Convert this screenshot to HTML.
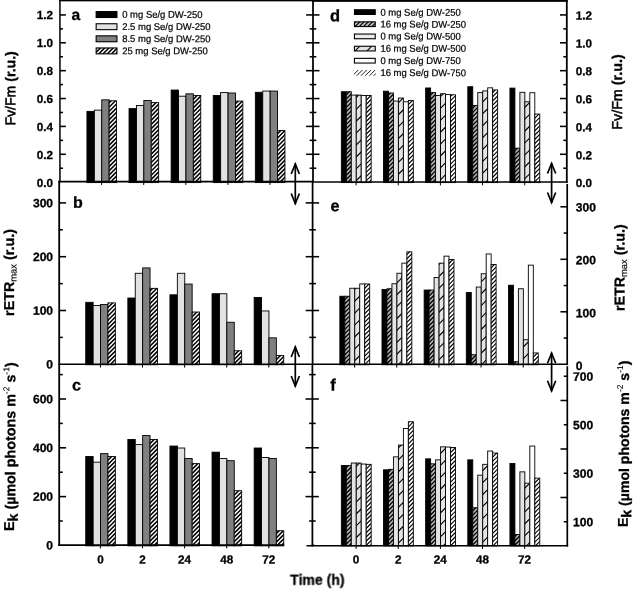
<!DOCTYPE html>
<html><head><meta charset="utf-8"><title>chart</title>
<style>
html,body{margin:0;padding:0;background:#fff;}
body{width:638px;height:590px;overflow:hidden;font-family:"Liberation Sans",sans-serif;}
svg{display:block;font-family:"Liberation Sans",sans-serif;}
.tk{font-weight:bold;font-size:11.7px;fill:#000;stroke:#000;stroke-width:0.3px;}
.lg{font-size:9.8px;fill:#000;stroke:#000;stroke-width:0.22px;}
.pl{font-weight:bold;font-size:17px;fill:#000;stroke:#000;stroke-width:0.3px;}
.ti{font-weight:bold;font-size:14.3px;fill:#000;stroke:#000;stroke-width:0.3px;}
</style></head><body>
<svg width="638" height="590" viewBox="0 0 638 590">
<defs>
</defs>
<filter id="soft" x="0" y="0" width="100%" height="100%" filterUnits="userSpaceOnUse" color-interpolation-filters="sRGB"><feGaussianBlur stdDeviation="0.33"/></filter>
<filter id="soft2" x="0" y="0" width="100%" height="100%" filterUnits="userSpaceOnUse" color-interpolation-filters="sRGB"><feGaussianBlur stdDeviation="0.18"/></filter>
<rect width="638" height="590" fill="#fff"/>
<g filter="url(#soft2)">

<rect x="86.95" y="111.39" width="7.40" height="71.21" fill="#000" stroke="#000" stroke-width="0.9"/>
<rect x="94.35" y="110.14" width="7.40" height="72.46" fill="#e2e2e2" stroke="#000" stroke-width="0.9"/>
<rect x="101.75" y="99.83" width="7.40" height="82.77" fill="#808080" stroke="#000" stroke-width="0.9"/>
<clipPath id="c1"><rect x="109.15" y="100.80" width="7.40" height="81.80"/></clipPath>
<rect x="109.15" y="100.80" width="7.40" height="81.80" fill="#fff"/>
<path d="M108.15,95.37L117.55,85.97M108.15,99.61L117.55,90.21M108.15,103.85L117.55,94.45M108.15,108.09L117.55,98.69M108.15,112.33L117.55,102.93M108.15,116.57L117.55,107.17M108.15,120.81L117.55,111.41M108.15,125.05L117.55,115.65M108.15,129.29L117.55,119.89M108.15,133.53L117.55,124.13M108.15,137.77L117.55,128.37M108.15,142.01L117.55,132.61M108.15,146.25L117.55,136.85M108.15,150.49L117.55,141.09M108.15,154.73L117.55,145.33M108.15,158.97L117.55,149.57M108.15,163.21L117.55,153.81M108.15,167.45L117.55,158.05M108.15,171.69L117.55,162.29M108.15,175.93L117.55,166.53M108.15,180.17L117.55,170.77M108.15,184.41L117.55,175.01M108.15,188.65L117.55,179.25M108.15,192.89L117.55,183.49M108.15,197.13L117.55,187.73" stroke="#000" stroke-width="1.55" fill="none" clip-path="url(#c1)"/>
<rect x="109.15" y="100.80" width="7.40" height="81.80" fill="none" stroke="#000" stroke-width="0.9"/>
<rect x="129.05" y="108.61" width="7.40" height="73.99" fill="#000" stroke="#000" stroke-width="0.9"/>
<rect x="136.45" y="105.54" width="7.40" height="77.06" fill="#e2e2e2" stroke="#000" stroke-width="0.9"/>
<rect x="143.85" y="100.52" width="7.40" height="82.08" fill="#808080" stroke="#000" stroke-width="0.9"/>
<clipPath id="c2"><rect x="151.25" y="102.61" width="7.40" height="79.99"/></clipPath>
<rect x="151.25" y="102.61" width="7.40" height="79.99" fill="#fff"/>
<path d="M150.25,95.67L159.65,86.27M150.25,99.91L159.65,90.51M150.25,104.15L159.65,94.75M150.25,108.39L159.65,98.99M150.25,112.63L159.65,103.23M150.25,116.87L159.65,107.47M150.25,121.11L159.65,111.71M150.25,125.35L159.65,115.95M150.25,129.59L159.65,120.19M150.25,133.83L159.65,124.43M150.25,138.07L159.65,128.67M150.25,142.31L159.65,132.91M150.25,146.55L159.65,137.15M150.25,150.79L159.65,141.39M150.25,155.03L159.65,145.63M150.25,159.27L159.65,149.87M150.25,163.51L159.65,154.11M150.25,167.75L159.65,158.35M150.25,171.99L159.65,162.59M150.25,176.23L159.65,166.83M150.25,180.47L159.65,171.07M150.25,184.71L159.65,175.31M150.25,188.95L159.65,179.55M150.25,193.19L159.65,183.79M150.25,197.43L159.65,188.03" stroke="#000" stroke-width="1.55" fill="none" clip-path="url(#c2)"/>
<rect x="151.25" y="102.61" width="7.40" height="79.99" fill="none" stroke="#000" stroke-width="0.9"/>
<rect x="171.15" y="90.07" width="7.40" height="92.53" fill="#000" stroke="#000" stroke-width="0.9"/>
<rect x="178.55" y="96.20" width="7.40" height="86.40" fill="#e2e2e2" stroke="#000" stroke-width="0.9"/>
<rect x="185.95" y="93.83" width="7.40" height="88.77" fill="#808080" stroke="#000" stroke-width="0.9"/>
<clipPath id="c3"><rect x="193.35" y="95.51" width="7.40" height="87.09"/></clipPath>
<rect x="193.35" y="95.51" width="7.40" height="87.09" fill="#fff"/>
<path d="M192.35,91.73L201.75,82.33M192.35,95.97L201.75,86.57M192.35,100.21L201.75,90.81M192.35,104.45L201.75,95.05M192.35,108.69L201.75,99.29M192.35,112.93L201.75,103.53M192.35,117.17L201.75,107.77M192.35,121.41L201.75,112.01M192.35,125.65L201.75,116.25M192.35,129.89L201.75,120.49M192.35,134.13L201.75,124.73M192.35,138.37L201.75,128.97M192.35,142.61L201.75,133.21M192.35,146.85L201.75,137.45M192.35,151.09L201.75,141.69M192.35,155.33L201.75,145.93M192.35,159.57L201.75,150.17M192.35,163.81L201.75,154.41M192.35,168.05L201.75,158.65M192.35,172.29L201.75,162.89M192.35,176.53L201.75,167.13M192.35,180.77L201.75,171.37M192.35,185.01L201.75,175.61M192.35,189.25L201.75,179.85M192.35,193.49L201.75,184.09M192.35,197.73L201.75,188.33" stroke="#000" stroke-width="1.55" fill="none" clip-path="url(#c3)"/>
<rect x="193.35" y="95.51" width="7.40" height="87.09" fill="none" stroke="#000" stroke-width="0.9"/>
<rect x="213.25" y="95.51" width="7.40" height="87.09" fill="#000" stroke="#000" stroke-width="0.9"/>
<rect x="220.65" y="92.58" width="7.40" height="90.02" fill="#e2e2e2" stroke="#000" stroke-width="0.9"/>
<rect x="228.05" y="93.00" width="7.40" height="89.60" fill="#808080" stroke="#000" stroke-width="0.9"/>
<clipPath id="c4"><rect x="235.45" y="101.08" width="7.40" height="81.52"/></clipPath>
<rect x="235.45" y="101.08" width="7.40" height="81.52" fill="#fff"/>
<path d="M234.45,96.27L243.85,86.87M234.45,100.51L243.85,91.11M234.45,104.75L243.85,95.35M234.45,108.99L243.85,99.59M234.45,113.23L243.85,103.83M234.45,117.47L243.85,108.07M234.45,121.71L243.85,112.31M234.45,125.95L243.85,116.55M234.45,130.19L243.85,120.79M234.45,134.43L243.85,125.03M234.45,138.67L243.85,129.27M234.45,142.91L243.85,133.51M234.45,147.15L243.85,137.75M234.45,151.39L243.85,141.99M234.45,155.63L243.85,146.23M234.45,159.87L243.85,150.47M234.45,164.11L243.85,154.71M234.45,168.35L243.85,158.95M234.45,172.59L243.85,163.19M234.45,176.83L243.85,167.43M234.45,181.07L243.85,171.67M234.45,185.31L243.85,175.91M234.45,189.55L243.85,180.15M234.45,193.79L243.85,184.39M234.45,198.03L243.85,188.63" stroke="#000" stroke-width="1.55" fill="none" clip-path="url(#c4)"/>
<rect x="235.45" y="101.08" width="7.40" height="81.52" fill="none" stroke="#000" stroke-width="0.9"/>
<rect x="255.35" y="92.30" width="7.40" height="90.30" fill="#000" stroke="#000" stroke-width="0.9"/>
<rect x="262.75" y="91.05" width="7.40" height="91.55" fill="#e2e2e2" stroke="#000" stroke-width="0.9"/>
<rect x="270.15" y="91.05" width="7.40" height="91.55" fill="#808080" stroke="#000" stroke-width="0.9"/>
<clipPath id="c5"><rect x="277.55" y="130.62" width="7.40" height="51.98"/></clipPath>
<rect x="277.55" y="130.62" width="7.40" height="51.98" fill="#fff"/>
<path d="M276.55,126.25L285.95,116.85M276.55,130.49L285.95,121.09M276.55,134.73L285.95,125.33M276.55,138.97L285.95,129.57M276.55,143.21L285.95,133.81M276.55,147.45L285.95,138.05M276.55,151.69L285.95,142.29M276.55,155.93L285.95,146.53M276.55,160.17L285.95,150.77M276.55,164.41L285.95,155.01M276.55,168.65L285.95,159.25M276.55,172.89L285.95,163.49M276.55,177.13L285.95,167.73M276.55,181.37L285.95,171.97M276.55,185.61L285.95,176.21M276.55,189.85L285.95,180.45M276.55,194.09L285.95,184.69M276.55,198.33L285.95,188.93" stroke="#000" stroke-width="1.55" fill="none" clip-path="url(#c5)"/>
<rect x="277.55" y="130.62" width="7.40" height="51.98" fill="none" stroke="#000" stroke-width="0.9"/>
<rect x="85.75" y="302.34" width="7.40" height="62.41" fill="#000" stroke="#000" stroke-width="0.9"/>
<rect x="93.15" y="305.57" width="7.40" height="59.18" fill="#e2e2e2" stroke="#000" stroke-width="0.9"/>
<rect x="100.55" y="304.49" width="7.40" height="60.26" fill="#808080" stroke="#000" stroke-width="0.9"/>
<clipPath id="c6"><rect x="107.95" y="302.88" width="7.40" height="61.87"/></clipPath>
<rect x="107.95" y="302.88" width="7.40" height="61.87" fill="#fff"/>
<path d="M106.95,295.85L116.35,286.45M106.95,300.09L116.35,290.69M106.95,304.33L116.35,294.93M106.95,308.57L116.35,299.17M106.95,312.81L116.35,303.41M106.95,317.05L116.35,307.65M106.95,321.29L116.35,311.89M106.95,325.53L116.35,316.13M106.95,329.77L116.35,320.37M106.95,334.01L116.35,324.61M106.95,338.25L116.35,328.85M106.95,342.49L116.35,333.09M106.95,346.73L116.35,337.33M106.95,350.97L116.35,341.57M106.95,355.21L116.35,345.81M106.95,359.45L116.35,350.05M106.95,363.69L116.35,354.29M106.95,367.93L116.35,358.53M106.95,372.17L116.35,362.77M106.95,376.41L116.35,367.01M106.95,380.65L116.35,371.25" stroke="#000" stroke-width="1.55" fill="none" clip-path="url(#c6)"/>
<rect x="107.95" y="302.88" width="7.40" height="61.87" fill="none" stroke="#000" stroke-width="0.9"/>
<rect x="127.85" y="298.04" width="7.40" height="66.71" fill="#000" stroke="#000" stroke-width="0.9"/>
<rect x="135.25" y="273.29" width="7.40" height="91.46" fill="#e2e2e2" stroke="#000" stroke-width="0.9"/>
<rect x="142.65" y="267.91" width="7.40" height="96.84" fill="#808080" stroke="#000" stroke-width="0.9"/>
<clipPath id="c7"><rect x="150.05" y="288.35" width="7.40" height="76.40"/></clipPath>
<rect x="150.05" y="288.35" width="7.40" height="76.40" fill="#fff"/>
<path d="M149.05,283.43L158.45,274.03M149.05,287.67L158.45,278.27M149.05,291.91L158.45,282.51M149.05,296.15L158.45,286.75M149.05,300.39L158.45,290.99M149.05,304.63L158.45,295.23M149.05,308.87L158.45,299.47M149.05,313.11L158.45,303.71M149.05,317.35L158.45,307.95M149.05,321.59L158.45,312.19M149.05,325.83L158.45,316.43M149.05,330.07L158.45,320.67M149.05,334.31L158.45,324.91M149.05,338.55L158.45,329.15M149.05,342.79L158.45,333.39M149.05,347.03L158.45,337.63M149.05,351.27L158.45,341.87M149.05,355.51L158.45,346.11M149.05,359.75L158.45,350.35M149.05,363.99L158.45,354.59M149.05,368.23L158.45,358.83M149.05,372.47L158.45,363.07M149.05,376.71L158.45,367.31M149.05,380.95L158.45,371.55" stroke="#000" stroke-width="1.55" fill="none" clip-path="url(#c7)"/>
<rect x="150.05" y="288.35" width="7.40" height="76.40" fill="none" stroke="#000" stroke-width="0.9"/>
<rect x="169.95" y="294.81" width="7.40" height="69.94" fill="#000" stroke="#000" stroke-width="0.9"/>
<rect x="177.35" y="273.29" width="7.40" height="91.46" fill="#e2e2e2" stroke="#000" stroke-width="0.9"/>
<rect x="184.75" y="284.05" width="7.40" height="80.70" fill="#808080" stroke="#000" stroke-width="0.9"/>
<clipPath id="c8"><rect x="192.15" y="312.03" width="7.40" height="52.72"/></clipPath>
<rect x="192.15" y="312.03" width="7.40" height="52.72" fill="#fff"/>
<path d="M191.15,304.93L200.55,295.53M191.15,309.17L200.55,299.77M191.15,313.41L200.55,304.01M191.15,317.65L200.55,308.25M191.15,321.89L200.55,312.49M191.15,326.13L200.55,316.73M191.15,330.37L200.55,320.97M191.15,334.61L200.55,325.21M191.15,338.85L200.55,329.45M191.15,343.09L200.55,333.69M191.15,347.33L200.55,337.93M191.15,351.57L200.55,342.17M191.15,355.81L200.55,346.41M191.15,360.05L200.55,350.65M191.15,364.29L200.55,354.89M191.15,368.53L200.55,359.13M191.15,372.77L200.55,363.37M191.15,377.01L200.55,367.61M191.15,381.25L200.55,371.85" stroke="#000" stroke-width="1.55" fill="none" clip-path="url(#c8)"/>
<rect x="192.15" y="312.03" width="7.40" height="52.72" fill="none" stroke="#000" stroke-width="0.9"/>
<rect x="212.05" y="293.73" width="7.40" height="71.02" fill="#000" stroke="#000" stroke-width="0.9"/>
<rect x="219.45" y="293.73" width="7.40" height="71.02" fill="#e2e2e2" stroke="#000" stroke-width="0.9"/>
<rect x="226.85" y="322.25" width="7.40" height="42.50" fill="#808080" stroke="#000" stroke-width="0.9"/>
<clipPath id="c9"><rect x="234.25" y="350.76" width="7.40" height="13.99"/></clipPath>
<rect x="234.25" y="350.76" width="7.40" height="13.99" fill="#fff"/>
<path d="M233.25,343.39L242.65,333.99M233.25,347.63L242.65,338.23M233.25,351.87L242.65,342.47M233.25,356.11L242.65,346.71M233.25,360.35L242.65,350.95M233.25,364.59L242.65,355.19M233.25,368.83L242.65,359.43M233.25,373.07L242.65,363.67M233.25,377.31L242.65,367.91M233.25,381.55L242.65,372.15" stroke="#000" stroke-width="1.55" fill="none" clip-path="url(#c9)"/>
<rect x="234.25" y="350.76" width="7.40" height="13.99" fill="none" stroke="#000" stroke-width="0.9"/>
<rect x="254.15" y="297.50" width="7.40" height="67.25" fill="#000" stroke="#000" stroke-width="0.9"/>
<rect x="261.55" y="310.95" width="7.40" height="53.80" fill="#e2e2e2" stroke="#000" stroke-width="0.9"/>
<rect x="268.95" y="337.85" width="7.40" height="26.90" fill="#808080" stroke="#000" stroke-width="0.9"/>
<clipPath id="c10"><rect x="276.35" y="355.60" width="7.40" height="9.15"/></clipPath>
<rect x="276.35" y="355.60" width="7.40" height="9.15" fill="#fff"/>
<path d="M275.35,352.17L284.75,342.77M275.35,356.41L284.75,347.01M275.35,360.65L284.75,351.25M275.35,364.89L284.75,355.49M275.35,369.13L284.75,359.73M275.35,373.37L284.75,363.97M275.35,377.61L284.75,368.21" stroke="#000" stroke-width="1.55" fill="none" clip-path="url(#c10)"/>
<rect x="276.35" y="355.60" width="7.40" height="9.15" fill="none" stroke="#000" stroke-width="0.9"/>
<rect x="85.75" y="456.55" width="7.40" height="89.30" fill="#000" stroke="#000" stroke-width="0.9"/>
<rect x="93.15" y="462.16" width="7.40" height="83.69" fill="#e2e2e2" stroke="#000" stroke-width="0.9"/>
<rect x="100.55" y="453.62" width="7.40" height="92.23" fill="#808080" stroke="#000" stroke-width="0.9"/>
<clipPath id="c11"><rect x="107.95" y="456.55" width="7.40" height="89.30"/></clipPath>
<rect x="107.95" y="456.55" width="7.40" height="89.30" fill="#fff"/>
<path d="M106.95,452.73L116.35,443.33M106.95,456.97L116.35,447.57M106.95,461.21L116.35,451.81M106.95,465.45L116.35,456.05M106.95,469.69L116.35,460.29M106.95,473.93L116.35,464.53M106.95,478.17L116.35,468.77M106.95,482.41L116.35,473.01M106.95,486.65L116.35,477.25M106.95,490.89L116.35,481.49M106.95,495.13L116.35,485.73M106.95,499.37L116.35,489.97M106.95,503.61L116.35,494.21M106.95,507.85L116.35,498.45M106.95,512.09L116.35,502.69M106.95,516.33L116.35,506.93M106.95,520.57L116.35,511.17M106.95,524.81L116.35,515.41M106.95,529.05L116.35,519.65M106.95,533.29L116.35,523.89M106.95,537.53L116.35,528.13M106.95,541.77L116.35,532.37M106.95,546.01L116.35,536.61M106.95,550.25L116.35,540.85M106.95,554.49L116.35,545.09M106.95,558.73L116.35,549.33" stroke="#000" stroke-width="1.55" fill="none" clip-path="url(#c11)"/>
<rect x="107.95" y="456.55" width="7.40" height="89.30" fill="none" stroke="#000" stroke-width="0.9"/>
<rect x="127.85" y="439.47" width="7.40" height="106.38" fill="#000" stroke="#000" stroke-width="0.9"/>
<rect x="135.25" y="444.59" width="7.40" height="101.26" fill="#e2e2e2" stroke="#000" stroke-width="0.9"/>
<rect x="142.65" y="435.56" width="7.40" height="110.29" fill="#808080" stroke="#000" stroke-width="0.9"/>
<clipPath id="c12"><rect x="150.05" y="439.47" width="7.40" height="106.38"/></clipPath>
<rect x="150.05" y="439.47" width="7.40" height="106.38" fill="#fff"/>
<path d="M149.05,436.07L158.45,426.67M149.05,440.31L158.45,430.91M149.05,444.55L158.45,435.15M149.05,448.79L158.45,439.39M149.05,453.03L158.45,443.63M149.05,457.27L158.45,447.87M149.05,461.51L158.45,452.11M149.05,465.75L158.45,456.35M149.05,469.99L158.45,460.59M149.05,474.23L158.45,464.83M149.05,478.47L158.45,469.07M149.05,482.71L158.45,473.31M149.05,486.95L158.45,477.55M149.05,491.19L158.45,481.79M149.05,495.43L158.45,486.03M149.05,499.67L158.45,490.27M149.05,503.91L158.45,494.51M149.05,508.15L158.45,498.75M149.05,512.39L158.45,502.99M149.05,516.63L158.45,507.23M149.05,520.87L158.45,511.47M149.05,525.11L158.45,515.71M149.05,529.35L158.45,519.95M149.05,533.59L158.45,524.19M149.05,537.83L158.45,528.43M149.05,542.07L158.45,532.67M149.05,546.31L158.45,536.91M149.05,550.55L158.45,541.15M149.05,554.79L158.45,545.39M149.05,559.03L158.45,549.63" stroke="#000" stroke-width="1.55" fill="none" clip-path="url(#c12)"/>
<rect x="150.05" y="439.47" width="7.40" height="106.38" fill="none" stroke="#000" stroke-width="0.9"/>
<rect x="169.95" y="446.05" width="7.40" height="99.80" fill="#000" stroke="#000" stroke-width="0.9"/>
<rect x="177.35" y="448.01" width="7.40" height="97.84" fill="#e2e2e2" stroke="#000" stroke-width="0.9"/>
<rect x="184.75" y="458.50" width="7.40" height="87.35" fill="#808080" stroke="#000" stroke-width="0.9"/>
<clipPath id="c13"><rect x="192.15" y="463.62" width="7.40" height="82.23"/></clipPath>
<rect x="192.15" y="463.62" width="7.40" height="82.23" fill="#fff"/>
<path d="M191.15,457.57L200.55,448.17M191.15,461.81L200.55,452.41M191.15,466.05L200.55,456.65M191.15,470.29L200.55,460.89M191.15,474.53L200.55,465.13M191.15,478.77L200.55,469.37M191.15,483.01L200.55,473.61M191.15,487.25L200.55,477.85M191.15,491.49L200.55,482.09M191.15,495.73L200.55,486.33M191.15,499.97L200.55,490.57M191.15,504.21L200.55,494.81M191.15,508.45L200.55,499.05M191.15,512.69L200.55,503.29M191.15,516.93L200.55,507.53M191.15,521.17L200.55,511.77M191.15,525.41L200.55,516.01M191.15,529.65L200.55,520.25M191.15,533.89L200.55,524.49M191.15,538.13L200.55,528.73M191.15,542.37L200.55,532.97M191.15,546.61L200.55,537.21M191.15,550.85L200.55,541.45M191.15,555.09L200.55,545.69M191.15,559.33L200.55,549.93" stroke="#000" stroke-width="1.55" fill="none" clip-path="url(#c13)"/>
<rect x="192.15" y="463.62" width="7.40" height="82.23" fill="none" stroke="#000" stroke-width="0.9"/>
<rect x="212.05" y="452.15" width="7.40" height="93.70" fill="#000" stroke="#000" stroke-width="0.9"/>
<rect x="219.45" y="458.50" width="7.40" height="87.35" fill="#e2e2e2" stroke="#000" stroke-width="0.9"/>
<rect x="226.85" y="460.69" width="7.40" height="85.16" fill="#808080" stroke="#000" stroke-width="0.9"/>
<clipPath id="c14"><rect x="234.25" y="490.71" width="7.40" height="55.14"/></clipPath>
<rect x="234.25" y="490.71" width="7.40" height="55.14" fill="#fff"/>
<path d="M233.25,483.31L242.65,473.91M233.25,487.55L242.65,478.15M233.25,491.79L242.65,482.39M233.25,496.03L242.65,486.63M233.25,500.27L242.65,490.87M233.25,504.51L242.65,495.11M233.25,508.75L242.65,499.35M233.25,512.99L242.65,503.59M233.25,517.23L242.65,507.83M233.25,521.47L242.65,512.07M233.25,525.71L242.65,516.31M233.25,529.95L242.65,520.55M233.25,534.19L242.65,524.79M233.25,538.43L242.65,529.03M233.25,542.67L242.65,533.27M233.25,546.91L242.65,537.51M233.25,551.15L242.65,541.75M233.25,555.39L242.65,545.99M233.25,559.63L242.65,550.23" stroke="#000" stroke-width="1.55" fill="none" clip-path="url(#c14)"/>
<rect x="234.25" y="490.71" width="7.40" height="55.14" fill="none" stroke="#000" stroke-width="0.9"/>
<rect x="254.15" y="448.01" width="7.40" height="97.84" fill="#000" stroke="#000" stroke-width="0.9"/>
<rect x="261.55" y="457.52" width="7.40" height="88.33" fill="#e2e2e2" stroke="#000" stroke-width="0.9"/>
<rect x="268.95" y="458.50" width="7.40" height="87.35" fill="#808080" stroke="#000" stroke-width="0.9"/>
<clipPath id="c15"><rect x="276.35" y="530.72" width="7.40" height="15.13"/></clipPath>
<rect x="276.35" y="530.72" width="7.40" height="15.13" fill="#fff"/>
<path d="M275.35,526.01L284.75,516.61M275.35,530.25L284.75,520.85M275.35,534.49L284.75,525.09M275.35,538.73L284.75,529.33M275.35,542.97L284.75,533.57M275.35,547.21L284.75,537.81M275.35,551.45L284.75,542.05M275.35,555.69L284.75,546.29M275.35,559.93L284.75,550.53" stroke="#000" stroke-width="1.55" fill="none" clip-path="url(#c15)"/>
<rect x="276.35" y="530.72" width="7.40" height="15.13" fill="none" stroke="#000" stroke-width="0.9"/>
<rect x="341.35" y="91.74" width="4.97" height="90.86" fill="#000" stroke="#000" stroke-width="0.9"/>
<clipPath id="c16"><rect x="346.32" y="91.74" width="4.97" height="90.86"/></clipPath>
<rect x="346.32" y="91.74" width="4.97" height="90.86" fill="#b2b2b2"/>
<path d="M345.32,87.16L352.29,80.19M345.32,91.40L352.29,84.43M345.32,95.64L352.29,88.67M345.32,99.88L352.29,92.91M345.32,104.12L352.29,97.15M345.32,108.36L352.29,101.39M345.32,112.60L352.29,105.63M345.32,116.84L352.29,109.87M345.32,121.08L352.29,114.11M345.32,125.32L352.29,118.35M345.32,129.56L352.29,122.59M345.32,133.80L352.29,126.83M345.32,138.04L352.29,131.07M345.32,142.28L352.29,135.31M345.32,146.52L352.29,139.55M345.32,150.76L352.29,143.79M345.32,155.00L352.29,148.03M345.32,159.24L352.29,152.27M345.32,163.48L352.29,156.51M345.32,167.72L352.29,160.75M345.32,171.96L352.29,164.99M345.32,176.20L352.29,169.23M345.32,180.44L352.29,173.47M345.32,184.68L352.29,177.71M345.32,188.92L352.29,181.95M345.32,193.16L352.29,186.19" stroke="#000" stroke-width="1.3" fill="none" clip-path="url(#c16)"/>
<rect x="346.32" y="91.74" width="4.97" height="90.86" fill="none" stroke="#000" stroke-width="0.9"/>
<rect x="351.29" y="95.09" width="4.97" height="87.51" fill="#e4e4e4" stroke="#000" stroke-width="0.9"/>
<clipPath id="c17"><rect x="356.26" y="95.09" width="4.97" height="87.51"/></clipPath>
<rect x="356.26" y="95.09" width="4.97" height="87.51" fill="#e4e4e4"/>
<path d="M355.26,74.54L362.23,67.57M355.26,86.44L362.23,79.47M355.26,98.34L362.23,91.37M355.26,110.24L362.23,103.27M355.26,122.14L362.23,115.17M355.26,134.04L362.23,127.07M355.26,145.94L362.23,138.97M355.26,157.84L362.23,150.87M355.26,169.74L362.23,162.77M355.26,181.64L362.23,174.67M355.26,193.54L362.23,186.57M355.26,205.44L362.23,198.47" stroke="#000" stroke-width="1.1" fill="none" clip-path="url(#c17)"/>
<rect x="356.26" y="95.09" width="4.97" height="87.51" fill="none" stroke="#000" stroke-width="0.9"/>
<rect x="361.23" y="95.51" width="4.97" height="87.09" fill="#fff" stroke="#000" stroke-width="0.9"/>
<clipPath id="c18"><rect x="366.20" y="95.51" width="4.97" height="87.09"/></clipPath>
<rect x="366.20" y="95.51" width="4.97" height="87.09" fill="#fff"/>
<path d="M365.20,88.48L372.17,81.51M365.20,92.72L372.17,85.75M365.20,96.96L372.17,89.99M365.20,101.20L372.17,94.23M365.20,105.44L372.17,98.47M365.20,109.68L372.17,102.71M365.20,113.92L372.17,106.95M365.20,118.16L372.17,111.19M365.20,122.40L372.17,115.43M365.20,126.64L372.17,119.67M365.20,130.88L372.17,123.91M365.20,135.12L372.17,128.15M365.20,139.36L372.17,132.39M365.20,143.60L372.17,136.63M365.20,147.84L372.17,140.87M365.20,152.08L372.17,145.11M365.20,156.32L372.17,149.35M365.20,160.56L372.17,153.59M365.20,164.80L372.17,157.83M365.20,169.04L372.17,162.07M365.20,173.28L372.17,166.31M365.20,177.52L372.17,170.55M365.20,181.76L372.17,174.79M365.20,186.00L372.17,179.03M365.20,190.24L372.17,183.27M365.20,194.48L372.17,187.51" stroke="#000" stroke-width="1.15" fill="none" clip-path="url(#c18)"/>
<rect x="366.20" y="95.51" width="4.97" height="87.09" fill="none" stroke="#000" stroke-width="0.9"/>
<rect x="383.50" y="91.19" width="4.97" height="91.41" fill="#000" stroke="#000" stroke-width="0.9"/>
<clipPath id="c19"><rect x="388.47" y="93.00" width="4.97" height="89.60"/></clipPath>
<rect x="388.47" y="93.00" width="4.97" height="89.60" fill="#b2b2b2"/>
<path d="M387.47,87.41L394.44,80.44M387.47,91.65L394.44,84.68M387.47,95.89L394.44,88.92M387.47,100.13L394.44,93.16M387.47,104.37L394.44,97.40M387.47,108.61L394.44,101.64M387.47,112.85L394.44,105.88M387.47,117.09L394.44,110.12M387.47,121.33L394.44,114.36M387.47,125.57L394.44,118.60M387.47,129.81L394.44,122.84M387.47,134.05L394.44,127.08M387.47,138.29L394.44,131.32M387.47,142.53L394.44,135.56M387.47,146.77L394.44,139.80M387.47,151.01L394.44,144.04M387.47,155.25L394.44,148.28M387.47,159.49L394.44,152.52M387.47,163.73L394.44,156.76M387.47,167.97L394.44,161.00M387.47,172.21L394.44,165.24M387.47,176.45L394.44,169.48M387.47,180.69L394.44,173.72M387.47,184.93L394.44,177.96M387.47,189.17L394.44,182.20M387.47,193.41L394.44,186.44" stroke="#000" stroke-width="1.3" fill="none" clip-path="url(#c19)"/>
<rect x="388.47" y="93.00" width="4.97" height="89.60" fill="none" stroke="#000" stroke-width="0.9"/>
<rect x="393.44" y="101.08" width="4.97" height="81.52" fill="#e4e4e4" stroke="#000" stroke-width="0.9"/>
<clipPath id="c20"><rect x="398.41" y="98.01" width="4.97" height="84.59"/></clipPath>
<rect x="398.41" y="98.01" width="4.97" height="84.59" fill="#e4e4e4"/>
<path d="M397.41,79.99L404.38,73.02M397.41,91.89L404.38,84.92M397.41,103.79L404.38,96.82M397.41,115.69L404.38,108.72M397.41,127.59L404.38,120.62M397.41,139.49L404.38,132.52M397.41,151.39L404.38,144.42M397.41,163.29L404.38,156.32M397.41,175.19L404.38,168.22M397.41,187.09L404.38,180.12M397.41,198.99L404.38,192.02M397.41,210.89L404.38,203.92" stroke="#000" stroke-width="1.1" fill="none" clip-path="url(#c20)"/>
<rect x="398.41" y="98.01" width="4.97" height="84.59" fill="none" stroke="#000" stroke-width="0.9"/>
<rect x="403.38" y="101.78" width="4.97" height="80.82" fill="#fff" stroke="#000" stroke-width="0.9"/>
<clipPath id="c21"><rect x="408.35" y="100.52" width="4.97" height="82.08"/></clipPath>
<rect x="408.35" y="100.52" width="4.97" height="82.08" fill="#fff"/>
<path d="M407.35,97.21L414.32,90.24M407.35,101.45L414.32,94.48M407.35,105.69L414.32,98.72M407.35,109.93L414.32,102.96M407.35,114.17L414.32,107.20M407.35,118.41L414.32,111.44M407.35,122.65L414.32,115.68M407.35,126.89L414.32,119.92M407.35,131.13L414.32,124.16M407.35,135.37L414.32,128.40M407.35,139.61L414.32,132.64M407.35,143.85L414.32,136.88M407.35,148.09L414.32,141.12M407.35,152.33L414.32,145.36M407.35,156.57L414.32,149.60M407.35,160.81L414.32,153.84M407.35,165.05L414.32,158.08M407.35,169.29L414.32,162.32M407.35,173.53L414.32,166.56M407.35,177.77L414.32,170.80M407.35,182.01L414.32,175.04M407.35,186.25L414.32,179.28M407.35,190.49L414.32,183.52M407.35,194.73L414.32,187.76" stroke="#000" stroke-width="1.15" fill="none" clip-path="url(#c21)"/>
<rect x="408.35" y="100.52" width="4.97" height="82.08" fill="none" stroke="#000" stroke-width="0.9"/>
<rect x="425.65" y="87.98" width="4.97" height="94.62" fill="#000" stroke="#000" stroke-width="0.9"/>
<clipPath id="c22"><rect x="430.62" y="92.58" width="4.97" height="90.02"/></clipPath>
<rect x="430.62" y="92.58" width="4.97" height="90.02" fill="#b2b2b2"/>
<path d="M429.62,87.66L436.59,80.69M429.62,91.90L436.59,84.93M429.62,96.14L436.59,89.17M429.62,100.38L436.59,93.41M429.62,104.62L436.59,97.65M429.62,108.86L436.59,101.89M429.62,113.10L436.59,106.13M429.62,117.34L436.59,110.37M429.62,121.58L436.59,114.61M429.62,125.82L436.59,118.85M429.62,130.06L436.59,123.09M429.62,134.30L436.59,127.33M429.62,138.54L436.59,131.57M429.62,142.78L436.59,135.81M429.62,147.02L436.59,140.05M429.62,151.26L436.59,144.29M429.62,155.50L436.59,148.53M429.62,159.74L436.59,152.77M429.62,163.98L436.59,157.01M429.62,168.22L436.59,161.25M429.62,172.46L436.59,165.49M429.62,176.70L436.59,169.73M429.62,180.94L436.59,173.97M429.62,185.18L436.59,178.21M429.62,189.42L436.59,182.45M429.62,193.66L436.59,186.69" stroke="#000" stroke-width="1.3" fill="none" clip-path="url(#c22)"/>
<rect x="430.62" y="92.58" width="4.97" height="90.02" fill="none" stroke="#000" stroke-width="0.9"/>
<rect x="435.59" y="95.51" width="4.97" height="87.09" fill="#e4e4e4" stroke="#000" stroke-width="0.9"/>
<clipPath id="c23"><rect x="440.56" y="93.69" width="4.97" height="88.91"/></clipPath>
<rect x="440.56" y="93.69" width="4.97" height="88.91" fill="#e4e4e4"/>
<path d="M439.56,73.54L446.53,66.57M439.56,85.44L446.53,78.47M439.56,97.34L446.53,90.37M439.56,109.24L446.53,102.27M439.56,121.14L446.53,114.17M439.56,133.04L446.53,126.07M439.56,144.94L446.53,137.97M439.56,156.84L446.53,149.87M439.56,168.74L446.53,161.77M439.56,180.64L446.53,173.67M439.56,192.54L446.53,185.57M439.56,204.44L446.53,197.47" stroke="#000" stroke-width="1.1" fill="none" clip-path="url(#c23)"/>
<rect x="440.56" y="93.69" width="4.97" height="88.91" fill="none" stroke="#000" stroke-width="0.9"/>
<rect x="445.53" y="94.53" width="4.97" height="88.07" fill="#fff" stroke="#000" stroke-width="0.9"/>
<clipPath id="c24"><rect x="450.50" y="94.81" width="4.97" height="87.79"/></clipPath>
<rect x="450.50" y="94.81" width="4.97" height="87.79" fill="#fff"/>
<path d="M449.50,88.98L456.47,82.01M449.50,93.22L456.47,86.25M449.50,97.46L456.47,90.49M449.50,101.70L456.47,94.73M449.50,105.94L456.47,98.97M449.50,110.18L456.47,103.21M449.50,114.42L456.47,107.45M449.50,118.66L456.47,111.69M449.50,122.90L456.47,115.93M449.50,127.14L456.47,120.17M449.50,131.38L456.47,124.41M449.50,135.62L456.47,128.65M449.50,139.86L456.47,132.89M449.50,144.10L456.47,137.13M449.50,148.34L456.47,141.37M449.50,152.58L456.47,145.61M449.50,156.82L456.47,149.85M449.50,161.06L456.47,154.09M449.50,165.30L456.47,158.33M449.50,169.54L456.47,162.57M449.50,173.78L456.47,166.81M449.50,178.02L456.47,171.05M449.50,182.26L456.47,175.29M449.50,186.50L456.47,179.53M449.50,190.74L456.47,183.77M449.50,194.98L456.47,188.01" stroke="#000" stroke-width="1.15" fill="none" clip-path="url(#c24)"/>
<rect x="450.50" y="94.81" width="4.97" height="87.79" fill="none" stroke="#000" stroke-width="0.9"/>
<rect x="467.80" y="86.73" width="4.97" height="95.87" fill="#000" stroke="#000" stroke-width="0.9"/>
<clipPath id="c25"><rect x="472.77" y="105.54" width="4.97" height="77.06"/></clipPath>
<rect x="472.77" y="105.54" width="4.97" height="77.06" fill="#b2b2b2"/>
<path d="M471.77,100.63L478.74,93.66M471.77,104.87L478.74,97.90M471.77,109.11L478.74,102.14M471.77,113.35L478.74,106.38M471.77,117.59L478.74,110.62M471.77,121.83L478.74,114.86M471.77,126.07L478.74,119.10M471.77,130.31L478.74,123.34M471.77,134.55L478.74,127.58M471.77,138.79L478.74,131.82M471.77,143.03L478.74,136.06M471.77,147.27L478.74,140.30M471.77,151.51L478.74,144.54M471.77,155.75L478.74,148.78M471.77,159.99L478.74,153.02M471.77,164.23L478.74,157.26M471.77,168.47L478.74,161.50M471.77,172.71L478.74,165.74M471.77,176.95L478.74,169.98M471.77,181.19L478.74,174.22M471.77,185.43L478.74,178.46M471.77,189.67L478.74,182.70M471.77,193.91L478.74,186.94" stroke="#000" stroke-width="1.3" fill="none" clip-path="url(#c25)"/>
<rect x="472.77" y="105.54" width="4.97" height="77.06" fill="none" stroke="#000" stroke-width="0.9"/>
<rect x="477.74" y="92.58" width="4.97" height="90.02" fill="#e4e4e4" stroke="#000" stroke-width="0.9"/>
<clipPath id="c26"><rect x="482.71" y="90.91" width="4.97" height="91.69"/></clipPath>
<rect x="482.71" y="90.91" width="4.97" height="91.69" fill="#e4e4e4"/>
<path d="M481.71,78.99L488.68,72.02M481.71,90.89L488.68,83.92M481.71,102.79L488.68,95.82M481.71,114.69L488.68,107.72M481.71,126.59L488.68,119.62M481.71,138.49L488.68,131.52M481.71,150.39L488.68,143.42M481.71,162.29L488.68,155.32M481.71,174.19L488.68,167.22M481.71,186.09L488.68,179.12M481.71,197.99L488.68,191.02M481.71,209.89L488.68,202.92" stroke="#000" stroke-width="1.1" fill="none" clip-path="url(#c26)"/>
<rect x="482.71" y="90.91" width="4.97" height="91.69" fill="none" stroke="#000" stroke-width="0.9"/>
<rect x="487.68" y="87.84" width="4.97" height="94.76" fill="#fff" stroke="#000" stroke-width="0.9"/>
<clipPath id="c27"><rect x="492.65" y="89.93" width="4.97" height="92.67"/></clipPath>
<rect x="492.65" y="89.93" width="4.97" height="92.67" fill="#fff"/>
<path d="M491.65,84.99L498.62,78.02M491.65,89.23L498.62,82.26M491.65,93.47L498.62,86.50M491.65,97.71L498.62,90.74M491.65,101.95L498.62,94.98M491.65,106.19L498.62,99.22M491.65,110.43L498.62,103.46M491.65,114.67L498.62,107.70M491.65,118.91L498.62,111.94M491.65,123.15L498.62,116.18M491.65,127.39L498.62,120.42M491.65,131.63L498.62,124.66M491.65,135.87L498.62,128.90M491.65,140.11L498.62,133.14M491.65,144.35L498.62,137.38M491.65,148.59L498.62,141.62M491.65,152.83L498.62,145.86M491.65,157.07L498.62,150.10M491.65,161.31L498.62,154.34M491.65,165.55L498.62,158.58M491.65,169.79L498.62,162.82M491.65,174.03L498.62,167.06M491.65,178.27L498.62,171.30M491.65,182.51L498.62,175.54M491.65,186.75L498.62,179.78M491.65,190.99L498.62,184.02M491.65,195.23L498.62,188.26" stroke="#000" stroke-width="1.15" fill="none" clip-path="url(#c27)"/>
<rect x="492.65" y="89.93" width="4.97" height="92.67" fill="none" stroke="#000" stroke-width="0.9"/>
<rect x="509.95" y="88.12" width="4.97" height="94.48" fill="#000" stroke="#000" stroke-width="0.9"/>
<clipPath id="c28"><rect x="514.92" y="148.18" width="4.97" height="34.42"/></clipPath>
<rect x="514.92" y="148.18" width="4.97" height="34.42" fill="#b2b2b2"/>
<path d="M513.92,143.28L520.89,136.31M513.92,147.52L520.89,140.55M513.92,151.76L520.89,144.79M513.92,156.00L520.89,149.03M513.92,160.24L520.89,153.27M513.92,164.48L520.89,157.51M513.92,168.72L520.89,161.75M513.92,172.96L520.89,165.99M513.92,177.20L520.89,170.23M513.92,181.44L520.89,174.47M513.92,185.68L520.89,178.71M513.92,189.92L520.89,182.95M513.92,194.16L520.89,187.19" stroke="#000" stroke-width="1.3" fill="none" clip-path="url(#c28)"/>
<rect x="514.92" y="148.18" width="4.97" height="34.42" fill="none" stroke="#000" stroke-width="0.9"/>
<rect x="519.89" y="92.30" width="4.97" height="90.30" fill="#e4e4e4" stroke="#000" stroke-width="0.9"/>
<clipPath id="c29"><rect x="524.86" y="101.78" width="4.97" height="80.82"/></clipPath>
<rect x="524.86" y="101.78" width="4.97" height="80.82" fill="#e4e4e4"/>
<path d="M523.86,84.44L530.83,77.47M523.86,96.34L530.83,89.37M523.86,108.24L530.83,101.27M523.86,120.14L530.83,113.17M523.86,132.04L530.83,125.07M523.86,143.94L530.83,136.97M523.86,155.84L530.83,148.87M523.86,167.74L530.83,160.77M523.86,179.64L530.83,172.67M523.86,191.54L530.83,184.57M523.86,203.44L530.83,196.47" stroke="#000" stroke-width="1.1" fill="none" clip-path="url(#c29)"/>
<rect x="524.86" y="101.78" width="4.97" height="80.82" fill="none" stroke="#000" stroke-width="0.9"/>
<rect x="529.83" y="92.72" width="4.97" height="89.88" fill="#fff" stroke="#000" stroke-width="0.9"/>
<clipPath id="c30"><rect x="534.80" y="114.04" width="4.97" height="68.56"/></clipPath>
<rect x="534.80" y="114.04" width="4.97" height="68.56" fill="#fff"/>
<path d="M533.80,110.68L540.77,103.71M533.80,114.92L540.77,107.95M533.80,119.16L540.77,112.19M533.80,123.40L540.77,116.43M533.80,127.64L540.77,120.67M533.80,131.88L540.77,124.91M533.80,136.12L540.77,129.15M533.80,140.36L540.77,133.39M533.80,144.60L540.77,137.63M533.80,148.84L540.77,141.87M533.80,153.08L540.77,146.11M533.80,157.32L540.77,150.35M533.80,161.56L540.77,154.59M533.80,165.80L540.77,158.83M533.80,170.04L540.77,163.07M533.80,174.28L540.77,167.31M533.80,178.52L540.77,171.55M533.80,182.76L540.77,175.79M533.80,187.00L540.77,180.03M533.80,191.24L540.77,184.27M533.80,195.48L540.77,188.51" stroke="#000" stroke-width="1.15" fill="none" clip-path="url(#c30)"/>
<rect x="534.80" y="114.04" width="4.97" height="68.56" fill="none" stroke="#000" stroke-width="0.9"/>
<rect x="339.85" y="296.25" width="4.97" height="68.50" fill="#000" stroke="#000" stroke-width="0.9"/>
<clipPath id="c31"><rect x="344.82" y="296.25" width="4.97" height="68.50"/></clipPath>
<rect x="344.82" y="296.25" width="4.97" height="68.50" fill="#b2b2b2"/>
<path d="M343.82,292.18L350.79,285.21M343.82,296.42L350.79,289.45M343.82,300.66L350.79,293.69M343.82,304.90L350.79,297.93M343.82,309.14L350.79,302.17M343.82,313.38L350.79,306.41M343.82,317.62L350.79,310.65M343.82,321.86L350.79,314.89M343.82,326.10L350.79,319.13M343.82,330.34L350.79,323.37M343.82,334.58L350.79,327.61M343.82,338.82L350.79,331.85M343.82,343.06L350.79,336.09M343.82,347.30L350.79,340.33M343.82,351.54L350.79,344.57M343.82,355.78L350.79,348.81M343.82,360.02L350.79,353.05M343.82,364.26L350.79,357.29M343.82,368.50L350.79,361.53M343.82,372.74L350.79,365.77M343.82,376.98L350.79,370.01" stroke="#000" stroke-width="1.3" fill="none" clip-path="url(#c31)"/>
<rect x="344.82" y="296.25" width="4.97" height="68.50" fill="none" stroke="#000" stroke-width="0.9"/>
<rect x="349.79" y="288.25" width="4.97" height="76.50" fill="#e4e4e4" stroke="#000" stroke-width="0.9"/>
<clipPath id="c32"><rect x="354.76" y="288.25" width="4.97" height="76.50"/></clipPath>
<rect x="354.76" y="288.25" width="4.97" height="76.50" fill="#e4e4e4"/>
<path d="M353.76,278.34L360.73,271.37M353.76,290.24L360.73,283.27M353.76,302.14L360.73,295.17M353.76,314.04L360.73,307.07M353.76,325.94L360.73,318.97M353.76,337.84L360.73,330.87M353.76,349.74L360.73,342.77M353.76,361.64L360.73,354.67M353.76,373.54L360.73,366.57M353.76,385.44L360.73,378.47" stroke="#000" stroke-width="1.1" fill="none" clip-path="url(#c32)"/>
<rect x="354.76" y="288.25" width="4.97" height="76.50" fill="none" stroke="#000" stroke-width="0.9"/>
<rect x="359.73" y="283.95" width="4.97" height="80.80" fill="#fff" stroke="#000" stroke-width="0.9"/>
<clipPath id="c33"><rect x="364.70" y="283.95" width="4.97" height="80.80"/></clipPath>
<rect x="364.70" y="283.95" width="4.97" height="80.80" fill="#fff"/>
<path d="M363.70,276.54L370.67,269.57M363.70,280.78L370.67,273.81M363.70,285.02L370.67,278.05M363.70,289.26L370.67,282.29M363.70,293.50L370.67,286.53M363.70,297.74L370.67,290.77M363.70,301.98L370.67,295.01M363.70,306.22L370.67,299.25M363.70,310.46L370.67,303.49M363.70,314.70L370.67,307.73M363.70,318.94L370.67,311.97M363.70,323.18L370.67,316.21M363.70,327.42L370.67,320.45M363.70,331.66L370.67,324.69M363.70,335.90L370.67,328.93M363.70,340.14L370.67,333.17M363.70,344.38L370.67,337.41M363.70,348.62L370.67,341.65M363.70,352.86L370.67,345.89M363.70,357.10L370.67,350.13M363.70,361.34L370.67,354.37M363.70,365.58L370.67,358.61M363.70,369.82L370.67,362.85M363.70,374.06L370.67,367.09M363.70,378.30L370.67,371.33" stroke="#000" stroke-width="1.15" fill="none" clip-path="url(#c33)"/>
<rect x="364.70" y="283.95" width="4.97" height="80.80" fill="none" stroke="#000" stroke-width="0.9"/>
<rect x="382.00" y="289.55" width="4.97" height="75.20" fill="#000" stroke="#000" stroke-width="0.9"/>
<clipPath id="c34"><rect x="386.97" y="288.75" width="4.97" height="76.00"/></clipPath>
<rect x="386.97" y="288.75" width="4.97" height="76.00" fill="#b2b2b2"/>
<path d="M385.97,283.95L392.94,276.98M385.97,288.19L392.94,281.22M385.97,292.43L392.94,285.46M385.97,296.67L392.94,289.70M385.97,300.91L392.94,293.94M385.97,305.15L392.94,298.18M385.97,309.39L392.94,302.42M385.97,313.63L392.94,306.66M385.97,317.87L392.94,310.90M385.97,322.11L392.94,315.14M385.97,326.35L392.94,319.38M385.97,330.59L392.94,323.62M385.97,334.83L392.94,327.86M385.97,339.07L392.94,332.10M385.97,343.31L392.94,336.34M385.97,347.55L392.94,340.58M385.97,351.79L392.94,344.82M385.97,356.03L392.94,349.06M385.97,360.27L392.94,353.30M385.97,364.51L392.94,357.54M385.97,368.75L392.94,361.78M385.97,372.99L392.94,366.02M385.97,377.23L392.94,370.26" stroke="#000" stroke-width="1.3" fill="none" clip-path="url(#c34)"/>
<rect x="386.97" y="288.75" width="4.97" height="76.00" fill="none" stroke="#000" stroke-width="0.9"/>
<rect x="391.94" y="283.75" width="4.97" height="81.00" fill="#e4e4e4" stroke="#000" stroke-width="0.9"/>
<clipPath id="c35"><rect x="396.91" y="273.25" width="4.97" height="91.50"/></clipPath>
<rect x="396.91" y="273.25" width="4.97" height="91.50" fill="#e4e4e4"/>
<path d="M395.91,259.99L402.88,253.02M395.91,271.89L402.88,264.92M395.91,283.79L402.88,276.82M395.91,295.69L402.88,288.72M395.91,307.59L402.88,300.62M395.91,319.49L402.88,312.52M395.91,331.39L402.88,324.42M395.91,343.29L402.88,336.32M395.91,355.19L402.88,348.22M395.91,367.09L402.88,360.12M395.91,378.99L402.88,372.02M395.91,390.89L402.88,383.92" stroke="#000" stroke-width="1.1" fill="none" clip-path="url(#c35)"/>
<rect x="396.91" y="273.25" width="4.97" height="91.50" fill="none" stroke="#000" stroke-width="0.9"/>
<rect x="401.88" y="263.15" width="4.97" height="101.60" fill="#fff" stroke="#000" stroke-width="0.9"/>
<clipPath id="c36"><rect x="406.85" y="251.85" width="4.97" height="112.90"/></clipPath>
<rect x="406.85" y="251.85" width="4.97" height="112.90" fill="#fff"/>
<path d="M405.85,247.11L412.82,240.14M405.85,251.35L412.82,244.38M405.85,255.59L412.82,248.62M405.85,259.83L412.82,252.86M405.85,264.07L412.82,257.10M405.85,268.31L412.82,261.34M405.85,272.55L412.82,265.58M405.85,276.79L412.82,269.82M405.85,281.03L412.82,274.06M405.85,285.27L412.82,278.30M405.85,289.51L412.82,282.54M405.85,293.75L412.82,286.78M405.85,297.99L412.82,291.02M405.85,302.23L412.82,295.26M405.85,306.47L412.82,299.50M405.85,310.71L412.82,303.74M405.85,314.95L412.82,307.98M405.85,319.19L412.82,312.22M405.85,323.43L412.82,316.46M405.85,327.67L412.82,320.70M405.85,331.91L412.82,324.94M405.85,336.15L412.82,329.18M405.85,340.39L412.82,333.42M405.85,344.63L412.82,337.66M405.85,348.87L412.82,341.90M405.85,353.11L412.82,346.14M405.85,357.35L412.82,350.38M405.85,361.59L412.82,354.62M405.85,365.83L412.82,358.86M405.85,370.07L412.82,363.10M405.85,374.31L412.82,367.34M405.85,378.55L412.82,371.58" stroke="#000" stroke-width="1.15" fill="none" clip-path="url(#c36)"/>
<rect x="406.85" y="251.85" width="4.97" height="112.90" fill="none" stroke="#000" stroke-width="0.9"/>
<rect x="424.15" y="290.05" width="4.97" height="74.70" fill="#000" stroke="#000" stroke-width="0.9"/>
<clipPath id="c37"><rect x="429.12" y="290.05" width="4.97" height="74.70"/></clipPath>
<rect x="429.12" y="290.05" width="4.97" height="74.70" fill="#b2b2b2"/>
<path d="M428.12,284.20L435.09,277.23M428.12,288.44L435.09,281.47M428.12,292.68L435.09,285.71M428.12,296.92L435.09,289.95M428.12,301.16L435.09,294.19M428.12,305.40L435.09,298.43M428.12,309.64L435.09,302.67M428.12,313.88L435.09,306.91M428.12,318.12L435.09,311.15M428.12,322.36L435.09,315.39M428.12,326.60L435.09,319.63M428.12,330.84L435.09,323.87M428.12,335.08L435.09,328.11M428.12,339.32L435.09,332.35M428.12,343.56L435.09,336.59M428.12,347.80L435.09,340.83M428.12,352.04L435.09,345.07M428.12,356.28L435.09,349.31M428.12,360.52L435.09,353.55M428.12,364.76L435.09,357.79M428.12,369.00L435.09,362.03M428.12,373.24L435.09,366.27M428.12,377.48L435.09,370.51" stroke="#000" stroke-width="1.3" fill="none" clip-path="url(#c37)"/>
<rect x="429.12" y="290.05" width="4.97" height="74.70" fill="none" stroke="#000" stroke-width="0.9"/>
<rect x="434.09" y="277.45" width="4.97" height="87.30" fill="#e4e4e4" stroke="#000" stroke-width="0.9"/>
<clipPath id="c38"><rect x="439.06" y="263.15" width="4.97" height="101.60"/></clipPath>
<rect x="439.06" y="263.15" width="4.97" height="101.60" fill="#e4e4e4"/>
<path d="M438.06,253.54L445.03,246.57M438.06,265.44L445.03,258.47M438.06,277.34L445.03,270.37M438.06,289.24L445.03,282.27M438.06,301.14L445.03,294.17M438.06,313.04L445.03,306.07M438.06,324.94L445.03,317.97M438.06,336.84L445.03,329.87M438.06,348.74L445.03,341.77M438.06,360.64L445.03,353.67M438.06,372.54L445.03,365.57M438.06,384.44L445.03,377.47" stroke="#000" stroke-width="1.1" fill="none" clip-path="url(#c38)"/>
<rect x="439.06" y="263.15" width="4.97" height="101.60" fill="none" stroke="#000" stroke-width="0.9"/>
<rect x="444.03" y="256.15" width="4.97" height="108.60" fill="#fff" stroke="#000" stroke-width="0.9"/>
<clipPath id="c39"><rect x="449.00" y="259.45" width="4.97" height="105.30"/></clipPath>
<rect x="449.00" y="259.45" width="4.97" height="105.30" fill="#fff"/>
<path d="M448.00,255.84L454.97,248.87M448.00,260.08L454.97,253.11M448.00,264.32L454.97,257.35M448.00,268.56L454.97,261.59M448.00,272.80L454.97,265.83M448.00,277.04L454.97,270.07M448.00,281.28L454.97,274.31M448.00,285.52L454.97,278.55M448.00,289.76L454.97,282.79M448.00,294.00L454.97,287.03M448.00,298.24L454.97,291.27M448.00,302.48L454.97,295.51M448.00,306.72L454.97,299.75M448.00,310.96L454.97,303.99M448.00,315.20L454.97,308.23M448.00,319.44L454.97,312.47M448.00,323.68L454.97,316.71M448.00,327.92L454.97,320.95M448.00,332.16L454.97,325.19M448.00,336.40L454.97,329.43M448.00,340.64L454.97,333.67M448.00,344.88L454.97,337.91M448.00,349.12L454.97,342.15M448.00,353.36L454.97,346.39M448.00,357.60L454.97,350.63M448.00,361.84L454.97,354.87M448.00,366.08L454.97,359.11M448.00,370.32L454.97,363.35M448.00,374.56L454.97,367.59M448.00,378.80L454.97,371.83" stroke="#000" stroke-width="1.15" fill="none" clip-path="url(#c39)"/>
<rect x="449.00" y="259.45" width="4.97" height="105.30" fill="none" stroke="#000" stroke-width="0.9"/>
<rect x="466.30" y="292.55" width="4.97" height="72.20" fill="#000" stroke="#000" stroke-width="0.9"/>
<clipPath id="c40"><rect x="471.27" y="354.75" width="4.97" height="10.00"/></clipPath>
<rect x="471.27" y="354.75" width="4.97" height="10.00" fill="#b2b2b2"/>
<path d="M470.27,348.05L477.24,341.08M470.27,352.29L477.24,345.32M470.27,356.53L477.24,349.56M470.27,360.77L477.24,353.80M470.27,365.01L477.24,358.04M470.27,369.25L477.24,362.28M470.27,373.49L477.24,366.52M470.27,377.73L477.24,370.76" stroke="#000" stroke-width="1.3" fill="none" clip-path="url(#c40)"/>
<rect x="471.27" y="354.75" width="4.97" height="10.00" fill="none" stroke="#000" stroke-width="0.9"/>
<rect x="476.24" y="287.05" width="4.97" height="77.70" fill="#e4e4e4" stroke="#000" stroke-width="0.9"/>
<clipPath id="c41"><rect x="481.21" y="273.75" width="4.97" height="91.00"/></clipPath>
<rect x="481.21" y="273.75" width="4.97" height="91.00" fill="#e4e4e4"/>
<path d="M480.21,258.99L487.18,252.02M480.21,270.89L487.18,263.92M480.21,282.79L487.18,275.82M480.21,294.69L487.18,287.72M480.21,306.59L487.18,299.62M480.21,318.49L487.18,311.52M480.21,330.39L487.18,323.42M480.21,342.29L487.18,335.32M480.21,354.19L487.18,347.22M480.21,366.09L487.18,359.12M480.21,377.99L487.18,371.02M480.21,389.89L487.18,382.92" stroke="#000" stroke-width="1.1" fill="none" clip-path="url(#c41)"/>
<rect x="481.21" y="273.75" width="4.97" height="91.00" fill="none" stroke="#000" stroke-width="0.9"/>
<rect x="486.18" y="253.95" width="4.97" height="110.80" fill="#fff" stroke="#000" stroke-width="0.9"/>
<clipPath id="c42"><rect x="491.15" y="264.45" width="4.97" height="100.30"/></clipPath>
<rect x="491.15" y="264.45" width="4.97" height="100.30" fill="#fff"/>
<path d="M490.15,260.33L497.12,253.36M490.15,264.57L497.12,257.60M490.15,268.81L497.12,261.84M490.15,273.05L497.12,266.08M490.15,277.29L497.12,270.32M490.15,281.53L497.12,274.56M490.15,285.77L497.12,278.80M490.15,290.01L497.12,283.04M490.15,294.25L497.12,287.28M490.15,298.49L497.12,291.52M490.15,302.73L497.12,295.76M490.15,306.97L497.12,300.00M490.15,311.21L497.12,304.24M490.15,315.45L497.12,308.48M490.15,319.69L497.12,312.72M490.15,323.93L497.12,316.96M490.15,328.17L497.12,321.20M490.15,332.41L497.12,325.44M490.15,336.65L497.12,329.68M490.15,340.89L497.12,333.92M490.15,345.13L497.12,338.16M490.15,349.37L497.12,342.40M490.15,353.61L497.12,346.64M490.15,357.85L497.12,350.88M490.15,362.09L497.12,355.12M490.15,366.33L497.12,359.36M490.15,370.57L497.12,363.60M490.15,374.81L497.12,367.84M490.15,379.05L497.12,372.08" stroke="#000" stroke-width="1.15" fill="none" clip-path="url(#c42)"/>
<rect x="491.15" y="264.45" width="4.97" height="100.30" fill="none" stroke="#000" stroke-width="0.9"/>
<rect x="508.45" y="285.25" width="4.97" height="79.50" fill="#000" stroke="#000" stroke-width="0.9"/>
<clipPath id="c43"><rect x="513.42" y="361.75" width="4.97" height="3.00"/></clipPath>
<rect x="513.42" y="361.75" width="4.97" height="3.00" fill="#b2b2b2"/>
<path d="M512.42,356.78L519.39,349.81M512.42,361.02L519.39,354.05M512.42,365.26L519.39,358.29M512.42,369.50L519.39,362.53M512.42,373.74L519.39,366.77M512.42,377.98L519.39,371.01" stroke="#000" stroke-width="1.3" fill="none" clip-path="url(#c43)"/>
<rect x="513.42" y="361.75" width="4.97" height="3.00" fill="none" stroke="#000" stroke-width="0.9"/>
<rect x="518.39" y="288.75" width="4.97" height="76.00" fill="#e4e4e4" stroke="#000" stroke-width="0.9"/>
<clipPath id="c44"><rect x="523.36" y="339.75" width="4.97" height="25.00"/></clipPath>
<rect x="523.36" y="339.75" width="4.97" height="25.00" fill="#e4e4e4"/>
<path d="M522.36,323.94L529.33,316.97M522.36,335.84L529.33,328.87M522.36,347.74L529.33,340.77M522.36,359.64L529.33,352.67M522.36,371.54L529.33,364.57M522.36,383.44L529.33,376.47M522.36,395.34L529.33,388.37" stroke="#000" stroke-width="1.1" fill="none" clip-path="url(#c44)"/>
<rect x="523.36" y="339.75" width="4.97" height="25.00" fill="none" stroke="#000" stroke-width="0.9"/>
<rect x="528.33" y="265.15" width="4.97" height="99.60" fill="#fff" stroke="#000" stroke-width="0.9"/>
<clipPath id="c45"><rect x="533.30" y="352.95" width="4.97" height="11.80"/></clipPath>
<rect x="533.30" y="352.95" width="4.97" height="11.80" fill="#fff"/>
<path d="M532.30,349.62L539.27,342.65M532.30,353.86L539.27,346.89M532.30,358.10L539.27,351.13M532.30,362.34L539.27,355.37M532.30,366.58L539.27,359.61M532.30,370.82L539.27,363.85M532.30,375.06L539.27,368.09" stroke="#000" stroke-width="1.15" fill="none" clip-path="url(#c45)"/>
<rect x="533.30" y="352.95" width="4.97" height="11.80" fill="none" stroke="#000" stroke-width="0.9"/>
<rect x="341.35" y="465.55" width="4.97" height="80.30" fill="#000" stroke="#000" stroke-width="0.9"/>
<clipPath id="c46"><rect x="346.32" y="465.55" width="4.97" height="80.30"/></clipPath>
<rect x="346.32" y="465.55" width="4.97" height="80.30" fill="#b2b2b2"/>
<path d="M345.32,460.28L352.29,453.31M345.32,464.52L352.29,457.55M345.32,468.76L352.29,461.79M345.32,473.00L352.29,466.03M345.32,477.24L352.29,470.27M345.32,481.48L352.29,474.51M345.32,485.72L352.29,478.75M345.32,489.96L352.29,482.99M345.32,494.20L352.29,487.23M345.32,498.44L352.29,491.47M345.32,502.68L352.29,495.71M345.32,506.92L352.29,499.95M345.32,511.16L352.29,504.19M345.32,515.40L352.29,508.43M345.32,519.64L352.29,512.67M345.32,523.88L352.29,516.91M345.32,528.12L352.29,521.15M345.32,532.36L352.29,525.39M345.32,536.60L352.29,529.63M345.32,540.84L352.29,533.87M345.32,545.08L352.29,538.11M345.32,549.32L352.29,542.35M345.32,553.56L352.29,546.59M345.32,557.80L352.29,550.83" stroke="#000" stroke-width="1.3" fill="none" clip-path="url(#c46)"/>
<rect x="346.32" y="465.55" width="4.97" height="80.30" fill="none" stroke="#000" stroke-width="0.9"/>
<rect x="351.29" y="463.05" width="4.97" height="82.80" fill="#e4e4e4" stroke="#000" stroke-width="0.9"/>
<clipPath id="c47"><rect x="356.26" y="463.05" width="4.97" height="82.80"/></clipPath>
<rect x="356.26" y="463.05" width="4.97" height="82.80" fill="#e4e4e4"/>
<path d="M355.26,443.44L362.23,436.47M355.26,455.34L362.23,448.37M355.26,467.24L362.23,460.27M355.26,479.14L362.23,472.17M355.26,491.04L362.23,484.07M355.26,502.94L362.23,495.97M355.26,514.84L362.23,507.87M355.26,526.74L362.23,519.77M355.26,538.64L362.23,531.67M355.26,550.54L362.23,543.57M355.26,562.44L362.23,555.47M355.26,574.34L362.23,567.37" stroke="#000" stroke-width="1.1" fill="none" clip-path="url(#c47)"/>
<rect x="356.26" y="463.05" width="4.97" height="82.80" fill="none" stroke="#000" stroke-width="0.9"/>
<rect x="361.23" y="464.05" width="4.97" height="81.80" fill="#fff" stroke="#000" stroke-width="0.9"/>
<clipPath id="c48"><rect x="366.20" y="464.35" width="4.97" height="81.50"/></clipPath>
<rect x="366.20" y="464.35" width="4.97" height="81.50" fill="#fff"/>
<path d="M365.20,457.36L372.17,450.39M365.20,461.60L372.17,454.63M365.20,465.84L372.17,458.87M365.20,470.08L372.17,463.11M365.20,474.32L372.17,467.35M365.20,478.56L372.17,471.59M365.20,482.80L372.17,475.83M365.20,487.04L372.17,480.07M365.20,491.28L372.17,484.31M365.20,495.52L372.17,488.55M365.20,499.76L372.17,492.79M365.20,504.00L372.17,497.03M365.20,508.24L372.17,501.27M365.20,512.48L372.17,505.51M365.20,516.72L372.17,509.75M365.20,520.96L372.17,513.99M365.20,525.20L372.17,518.23M365.20,529.44L372.17,522.47M365.20,533.68L372.17,526.71M365.20,537.92L372.17,530.95M365.20,542.16L372.17,535.19M365.20,546.40L372.17,539.43M365.20,550.64L372.17,543.67M365.20,554.88L372.17,547.91M365.20,559.12L372.17,552.15" stroke="#000" stroke-width="1.15" fill="none" clip-path="url(#c48)"/>
<rect x="366.20" y="464.35" width="4.97" height="81.50" fill="none" stroke="#000" stroke-width="0.9"/>
<rect x="383.50" y="469.85" width="4.97" height="76.00" fill="#000" stroke="#000" stroke-width="0.9"/>
<clipPath id="c49"><rect x="388.47" y="469.35" width="4.97" height="76.50"/></clipPath>
<rect x="388.47" y="469.35" width="4.97" height="76.50" fill="#b2b2b2"/>
<path d="M387.47,464.77L394.44,457.80M387.47,469.01L394.44,462.04M387.47,473.25L394.44,466.28M387.47,477.49L394.44,470.52M387.47,481.73L394.44,474.76M387.47,485.97L394.44,479.00M387.47,490.21L394.44,483.24M387.47,494.45L394.44,487.48M387.47,498.69L394.44,491.72M387.47,502.93L394.44,495.96M387.47,507.17L394.44,500.20M387.47,511.41L394.44,504.44M387.47,515.65L394.44,508.68M387.47,519.89L394.44,512.92M387.47,524.13L394.44,517.16M387.47,528.37L394.44,521.40M387.47,532.61L394.44,525.64M387.47,536.85L394.44,529.88M387.47,541.09L394.44,534.12M387.47,545.33L394.44,538.36M387.47,549.57L394.44,542.60M387.47,553.81L394.44,546.84M387.47,558.05L394.44,551.08" stroke="#000" stroke-width="1.3" fill="none" clip-path="url(#c49)"/>
<rect x="388.47" y="469.35" width="4.97" height="76.50" fill="none" stroke="#000" stroke-width="0.9"/>
<rect x="393.44" y="456.85" width="4.97" height="89.00" fill="#e4e4e4" stroke="#000" stroke-width="0.9"/>
<clipPath id="c50"><rect x="398.41" y="445.05" width="4.97" height="100.80"/></clipPath>
<rect x="398.41" y="445.05" width="4.97" height="100.80" fill="#e4e4e4"/>
<path d="M397.41,425.09L404.38,418.12M397.41,436.99L404.38,430.02M397.41,448.89L404.38,441.92M397.41,460.79L404.38,453.82M397.41,472.69L404.38,465.72M397.41,484.59L404.38,477.62M397.41,496.49L404.38,489.52M397.41,508.39L404.38,501.42M397.41,520.29L404.38,513.32M397.41,532.19L404.38,525.22M397.41,544.09L404.38,537.12M397.41,555.99L404.38,549.02M397.41,567.89L404.38,560.92" stroke="#000" stroke-width="1.1" fill="none" clip-path="url(#c50)"/>
<rect x="398.41" y="445.05" width="4.97" height="100.80" fill="none" stroke="#000" stroke-width="0.9"/>
<rect x="403.38" y="428.45" width="4.97" height="117.40" fill="#fff" stroke="#000" stroke-width="0.9"/>
<clipPath id="c51"><rect x="408.35" y="421.75" width="4.97" height="124.10"/></clipPath>
<rect x="408.35" y="421.75" width="4.97" height="124.10" fill="#fff"/>
<path d="M407.35,415.21L414.32,408.24M407.35,419.45L414.32,412.48M407.35,423.69L414.32,416.72M407.35,427.93L414.32,420.96M407.35,432.17L414.32,425.20M407.35,436.41L414.32,429.44M407.35,440.65L414.32,433.68M407.35,444.89L414.32,437.92M407.35,449.13L414.32,442.16M407.35,453.37L414.32,446.40M407.35,457.61L414.32,450.64M407.35,461.85L414.32,454.88M407.35,466.09L414.32,459.12M407.35,470.33L414.32,463.36M407.35,474.57L414.32,467.60M407.35,478.81L414.32,471.84M407.35,483.05L414.32,476.08M407.35,487.29L414.32,480.32M407.35,491.53L414.32,484.56M407.35,495.77L414.32,488.80M407.35,500.01L414.32,493.04M407.35,504.25L414.32,497.28M407.35,508.49L414.32,501.52M407.35,512.73L414.32,505.76M407.35,516.97L414.32,510.00M407.35,521.21L414.32,514.24M407.35,525.45L414.32,518.48M407.35,529.69L414.32,522.72M407.35,533.93L414.32,526.96M407.35,538.17L414.32,531.20M407.35,542.41L414.32,535.44M407.35,546.65L414.32,539.68M407.35,550.89L414.32,543.92M407.35,555.13L414.32,548.16M407.35,559.37L414.32,552.40" stroke="#000" stroke-width="1.15" fill="none" clip-path="url(#c51)"/>
<rect x="408.35" y="421.75" width="4.97" height="124.10" fill="none" stroke="#000" stroke-width="0.9"/>
<rect x="425.65" y="458.85" width="4.97" height="87.00" fill="#000" stroke="#000" stroke-width="0.9"/>
<clipPath id="c52"><rect x="430.62" y="463.85" width="4.97" height="82.00"/></clipPath>
<rect x="430.62" y="463.85" width="4.97" height="82.00" fill="#b2b2b2"/>
<path d="M429.62,456.54L436.59,449.57M429.62,460.78L436.59,453.81M429.62,465.02L436.59,458.05M429.62,469.26L436.59,462.29M429.62,473.50L436.59,466.53M429.62,477.74L436.59,470.77M429.62,481.98L436.59,475.01M429.62,486.22L436.59,479.25M429.62,490.46L436.59,483.49M429.62,494.70L436.59,487.73M429.62,498.94L436.59,491.97M429.62,503.18L436.59,496.21M429.62,507.42L436.59,500.45M429.62,511.66L436.59,504.69M429.62,515.90L436.59,508.93M429.62,520.14L436.59,513.17M429.62,524.38L436.59,517.41M429.62,528.62L436.59,521.65M429.62,532.86L436.59,525.89M429.62,537.10L436.59,530.13M429.62,541.34L436.59,534.37M429.62,545.58L436.59,538.61M429.62,549.82L436.59,542.85M429.62,554.06L436.59,547.09M429.62,558.30L436.59,551.33" stroke="#000" stroke-width="1.3" fill="none" clip-path="url(#c52)"/>
<rect x="430.62" y="463.85" width="4.97" height="82.00" fill="none" stroke="#000" stroke-width="0.9"/>
<rect x="435.59" y="459.85" width="4.97" height="86.00" fill="#e4e4e4" stroke="#000" stroke-width="0.9"/>
<clipPath id="c53"><rect x="440.56" y="446.85" width="4.97" height="99.00"/></clipPath>
<rect x="440.56" y="446.85" width="4.97" height="99.00" fill="#e4e4e4"/>
<path d="M439.56,430.54L446.53,423.57M439.56,442.44L446.53,435.47M439.56,454.34L446.53,447.37M439.56,466.24L446.53,459.27M439.56,478.14L446.53,471.17M439.56,490.04L446.53,483.07M439.56,501.94L446.53,494.97M439.56,513.84L446.53,506.87M439.56,525.74L446.53,518.77M439.56,537.64L446.53,530.67M439.56,549.54L446.53,542.57M439.56,561.44L446.53,554.47M439.56,573.34L446.53,566.37" stroke="#000" stroke-width="1.1" fill="none" clip-path="url(#c53)"/>
<rect x="440.56" y="446.85" width="4.97" height="99.00" fill="none" stroke="#000" stroke-width="0.9"/>
<rect x="445.53" y="447.05" width="4.97" height="98.80" fill="#fff" stroke="#000" stroke-width="0.9"/>
<clipPath id="c54"><rect x="450.50" y="447.55" width="4.97" height="98.30"/></clipPath>
<rect x="450.50" y="447.55" width="4.97" height="98.30" fill="#fff"/>
<path d="M449.50,440.90L456.47,433.93M449.50,445.14L456.47,438.17M449.50,449.38L456.47,442.41M449.50,453.62L456.47,446.65M449.50,457.86L456.47,450.89M449.50,462.10L456.47,455.13M449.50,466.34L456.47,459.37M449.50,470.58L456.47,463.61M449.50,474.82L456.47,467.85M449.50,479.06L456.47,472.09M449.50,483.30L456.47,476.33M449.50,487.54L456.47,480.57M449.50,491.78L456.47,484.81M449.50,496.02L456.47,489.05M449.50,500.26L456.47,493.29M449.50,504.50L456.47,497.53M449.50,508.74L456.47,501.77M449.50,512.98L456.47,506.01M449.50,517.22L456.47,510.25M449.50,521.46L456.47,514.49M449.50,525.70L456.47,518.73M449.50,529.94L456.47,522.97M449.50,534.18L456.47,527.21M449.50,538.42L456.47,531.45M449.50,542.66L456.47,535.69M449.50,546.90L456.47,539.93M449.50,551.14L456.47,544.17M449.50,555.38L456.47,548.41M449.50,559.62L456.47,552.65" stroke="#000" stroke-width="1.15" fill="none" clip-path="url(#c54)"/>
<rect x="450.50" y="447.55" width="4.97" height="98.30" fill="none" stroke="#000" stroke-width="0.9"/>
<rect x="467.80" y="459.85" width="4.97" height="86.00" fill="#000" stroke="#000" stroke-width="0.9"/>
<clipPath id="c55"><rect x="472.77" y="507.75" width="4.97" height="38.10"/></clipPath>
<rect x="472.77" y="507.75" width="4.97" height="38.10" fill="#b2b2b2"/>
<path d="M471.77,503.43L478.74,496.46M471.77,507.67L478.74,500.70M471.77,511.91L478.74,504.94M471.77,516.15L478.74,509.18M471.77,520.39L478.74,513.42M471.77,524.63L478.74,517.66M471.77,528.87L478.74,521.90M471.77,533.11L478.74,526.14M471.77,537.35L478.74,530.38M471.77,541.59L478.74,534.62M471.77,545.83L478.74,538.86M471.77,550.07L478.74,543.10M471.77,554.31L478.74,547.34M471.77,558.55L478.74,551.58" stroke="#000" stroke-width="1.3" fill="none" clip-path="url(#c55)"/>
<rect x="472.77" y="507.75" width="4.97" height="38.10" fill="none" stroke="#000" stroke-width="0.9"/>
<rect x="477.74" y="475.15" width="4.97" height="70.70" fill="#e4e4e4" stroke="#000" stroke-width="0.9"/>
<clipPath id="c56"><rect x="482.71" y="464.35" width="4.97" height="81.50"/></clipPath>
<rect x="482.71" y="464.35" width="4.97" height="81.50" fill="#e4e4e4"/>
<path d="M481.71,447.89L488.68,440.92M481.71,459.79L488.68,452.82M481.71,471.69L488.68,464.72M481.71,483.59L488.68,476.62M481.71,495.49L488.68,488.52M481.71,507.39L488.68,500.42M481.71,519.29L488.68,512.32M481.71,531.19L488.68,524.22M481.71,543.09L488.68,536.12M481.71,554.99L488.68,548.02M481.71,566.89L488.68,559.92" stroke="#000" stroke-width="1.1" fill="none" clip-path="url(#c56)"/>
<rect x="482.71" y="464.35" width="4.97" height="81.50" fill="none" stroke="#000" stroke-width="0.9"/>
<rect x="487.68" y="451.05" width="4.97" height="94.80" fill="#fff" stroke="#000" stroke-width="0.9"/>
<clipPath id="c57"><rect x="492.65" y="453.05" width="4.97" height="92.80"/></clipPath>
<rect x="492.65" y="453.05" width="4.97" height="92.80" fill="#fff"/>
<path d="M491.65,449.63L498.62,442.66M491.65,453.87L498.62,446.90M491.65,458.11L498.62,451.14M491.65,462.35L498.62,455.38M491.65,466.59L498.62,459.62M491.65,470.83L498.62,463.86M491.65,475.07L498.62,468.10M491.65,479.31L498.62,472.34M491.65,483.55L498.62,476.58M491.65,487.79L498.62,480.82M491.65,492.03L498.62,485.06M491.65,496.27L498.62,489.30M491.65,500.51L498.62,493.54M491.65,504.75L498.62,497.78M491.65,508.99L498.62,502.02M491.65,513.23L498.62,506.26M491.65,517.47L498.62,510.50M491.65,521.71L498.62,514.74M491.65,525.95L498.62,518.98M491.65,530.19L498.62,523.22M491.65,534.43L498.62,527.46M491.65,538.67L498.62,531.70M491.65,542.91L498.62,535.94M491.65,547.15L498.62,540.18M491.65,551.39L498.62,544.42M491.65,555.63L498.62,548.66M491.65,559.87L498.62,552.90" stroke="#000" stroke-width="1.15" fill="none" clip-path="url(#c57)"/>
<rect x="492.65" y="453.05" width="4.97" height="92.80" fill="none" stroke="#000" stroke-width="0.9"/>
<rect x="509.95" y="463.55" width="4.97" height="82.30" fill="#000" stroke="#000" stroke-width="0.9"/>
<clipPath id="c58"><rect x="514.92" y="534.55" width="4.97" height="11.30"/></clipPath>
<rect x="514.92" y="534.55" width="4.97" height="11.30" fill="#b2b2b2"/>
<path d="M513.92,529.12L520.89,522.15M513.92,533.36L520.89,526.39M513.92,537.60L520.89,530.63M513.92,541.84L520.89,534.87M513.92,546.08L520.89,539.11M513.92,550.32L520.89,543.35M513.92,554.56L520.89,547.59M513.92,558.80L520.89,551.83" stroke="#000" stroke-width="1.3" fill="none" clip-path="url(#c58)"/>
<rect x="514.92" y="534.55" width="4.97" height="11.30" fill="none" stroke="#000" stroke-width="0.9"/>
<rect x="519.89" y="471.85" width="4.97" height="74.00" fill="#e4e4e4" stroke="#000" stroke-width="0.9"/>
<clipPath id="c59"><rect x="524.86" y="483.15" width="4.97" height="62.70"/></clipPath>
<rect x="524.86" y="483.15" width="4.97" height="62.70" fill="#e4e4e4"/>
<path d="M523.86,465.24L530.83,458.27M523.86,477.14L530.83,470.17M523.86,489.04L530.83,482.07M523.86,500.94L530.83,493.97M523.86,512.84L530.83,505.87M523.86,524.74L530.83,517.77M523.86,536.64L530.83,529.67M523.86,548.54L530.83,541.57M523.86,560.44L530.83,553.47M523.86,572.34L530.83,565.37" stroke="#000" stroke-width="1.1" fill="none" clip-path="url(#c59)"/>
<rect x="524.86" y="483.15" width="4.97" height="62.70" fill="none" stroke="#000" stroke-width="0.9"/>
<rect x="529.83" y="446.05" width="4.97" height="99.80" fill="#fff" stroke="#000" stroke-width="0.9"/>
<clipPath id="c60"><rect x="534.80" y="478.15" width="4.97" height="67.70"/></clipPath>
<rect x="534.80" y="478.15" width="4.97" height="67.70" fill="#fff"/>
<path d="M533.80,471.08L540.77,464.11M533.80,475.32L540.77,468.35M533.80,479.56L540.77,472.59M533.80,483.80L540.77,476.83M533.80,488.04L540.77,481.07M533.80,492.28L540.77,485.31M533.80,496.52L540.77,489.55M533.80,500.76L540.77,493.79M533.80,505.00L540.77,498.03M533.80,509.24L540.77,502.27M533.80,513.48L540.77,506.51M533.80,517.72L540.77,510.75M533.80,521.96L540.77,514.99M533.80,526.20L540.77,519.23M533.80,530.44L540.77,523.47M533.80,534.68L540.77,527.71M533.80,538.92L540.77,531.95M533.80,543.16L540.77,536.19M533.80,547.40L540.77,540.43M533.80,551.64L540.77,544.67M533.80,555.88L540.77,548.91M533.80,560.12L540.77,553.15" stroke="#000" stroke-width="1.15" fill="none" clip-path="url(#c60)"/>
<rect x="534.80" y="478.15" width="4.97" height="67.70" fill="none" stroke="#000" stroke-width="0.9"/>
<rect x="96.15" y="11.60" width="20.80" height="5.90" fill="#000" stroke="#000" stroke-width="1.1"/>
<rect x="96.15" y="23.75" width="20.80" height="5.90" fill="#e2e2e2" stroke="#000" stroke-width="1.1"/>
<rect x="96.15" y="35.85" width="20.80" height="5.90" fill="#808080" stroke="#000" stroke-width="1.1"/>
<clipPath id="c61"><rect x="96.15" y="47.95" width="20.80" height="5.90"/></clipPath>
<rect x="96.15" y="47.95" width="20.80" height="5.90" fill="#fff"/>
<path d="M95.15,40.53L117.95,17.73M95.15,44.77L117.95,21.97M95.15,49.01L117.95,26.21M95.15,53.25L117.95,30.45M95.15,57.49L117.95,34.69M95.15,61.73L117.95,38.93M95.15,65.97L117.95,43.17M95.15,70.21L117.95,47.41M95.15,74.45L117.95,51.65M95.15,78.69L117.95,55.89M95.15,82.93L117.95,60.13" stroke="#000" stroke-width="1.55" fill="none" clip-path="url(#c61)"/>
<rect x="96.15" y="47.95" width="20.80" height="5.90" fill="none" stroke="#000" stroke-width="1.1"/>
<rect x="354.45" y="9.75" width="20.80" height="4.70" fill="#000" stroke="#000" stroke-width="1.1"/>
<clipPath id="c62"><rect x="354.45" y="21.85" width="20.80" height="4.70"/></clipPath>
<rect x="354.45" y="21.85" width="20.80" height="4.70" fill="#bbb"/>
<path d="M353.45,15.43L376.25,-7.37M353.45,19.67L376.25,-3.13M353.45,23.91L376.25,1.11M353.45,28.15L376.25,5.35M353.45,32.39L376.25,9.59M353.45,36.63L376.25,13.83M353.45,40.87L376.25,18.07M353.45,45.11L376.25,22.31M353.45,49.35L376.25,26.55M353.45,53.59L376.25,30.79" stroke="#000" stroke-width="1.15" fill="none" clip-path="url(#c62)"/>
<rect x="354.45" y="21.85" width="20.80" height="4.70" fill="none" stroke="#000" stroke-width="1.1"/>
<rect x="354.45" y="34.05" width="20.80" height="4.70" fill="#ececec" stroke="#000" stroke-width="1.1"/>
<clipPath id="c63"><rect x="354.45" y="46.25" width="20.80" height="4.70"/></clipPath>
<rect x="354.45" y="46.25" width="20.80" height="4.70" fill="#e4e4e4"/>
<path d="M353.45,28.75L376.25,5.95M353.45,40.65L376.25,17.85M353.45,52.55L376.25,29.75M353.45,64.45L376.25,41.65M353.45,76.35L376.25,53.55M353.45,88.25L376.25,65.45" stroke="#000" stroke-width="1.1" fill="none" clip-path="url(#c63)"/>
<rect x="354.45" y="46.25" width="20.80" height="4.70" fill="none" stroke="#000" stroke-width="1.1"/>
<rect x="354.45" y="58.35" width="20.80" height="4.70" fill="#fff" stroke="#000" stroke-width="1.1"/>
<clipPath id="c64"><rect x="353.90" y="70.00" width="21.90" height="5.80"/></clipPath>
<rect x="353.90" y="70.00" width="21.90" height="5.80" fill="#fff"/>
<path d="M352.90,62.62L376.80,38.72M352.90,66.86L376.80,42.96M352.90,71.10L376.80,47.20M352.90,75.34L376.80,51.44M352.90,79.58L376.80,55.68M352.90,83.82L376.80,59.92M352.90,88.06L376.80,64.16M352.90,92.30L376.80,68.40M352.90,96.54L376.80,72.64M352.90,100.78L376.80,76.88M352.90,105.02L376.80,81.12" stroke="#111" stroke-width="0.95" fill="none" clip-path="url(#c64)"/>
</g><g filter="url(#soft)">
<rect x="59.20" y="0" width="253.80" height="1.35" fill="#000"/>
<rect x="312.10" y="0" width="255.60" height="1.85" fill="#000"/>
<line x1="59.95" y1="0.00" x2="59.95" y2="182.45" stroke="#000" stroke-width="1.5"/>
<line x1="59.20" y1="180.85" x2="59.20" y2="545.90" stroke="#000" stroke-width="1.8"/>
<line x1="313.00" y1="0.00" x2="313.00" y2="182.05" stroke="#000" stroke-width="1.75"/>
<line x1="312.60" y1="181.65" x2="312.60" y2="364.30" stroke="#000" stroke-width="1.75"/>
<line x1="312.40" y1="364.30" x2="312.40" y2="546.50" stroke="#000" stroke-width="1.75"/>
<line x1="566.80" y1="0.00" x2="566.80" y2="182.85" stroke="#000" stroke-width="1.8"/>
<line x1="567.20" y1="183.95" x2="567.20" y2="365.10" stroke="#000" stroke-width="1.7"/>
<line x1="567.30" y1="366.20" x2="567.30" y2="546.50" stroke="#000" stroke-width="1.7"/>
<line x1="58.30" y1="181.65" x2="313.00" y2="181.65" stroke="#000" stroke-width="1.7"/>
<line x1="312.60" y1="182.05" x2="567.70" y2="182.05" stroke="#000" stroke-width="1.6"/>
<line x1="58.30" y1="364.30" x2="568.05" y2="364.30" stroke="#000" stroke-width="1.5"/>
<line x1="58.30" y1="545.10" x2="284.20" y2="545.10" stroke="#000" stroke-width="1.6"/>
<line x1="306.50" y1="545.70" x2="568.15" y2="545.70" stroke="#000" stroke-width="1.5"/>
<line x1="311.55" y1="545.30" x2="314.40" y2="545.30" stroke="#000" stroke-width="1.5"/>
<line x1="59.95" y1="154.28" x2="65.85" y2="154.28" stroke="#000" stroke-width="1.55"/>
<line x1="306.10" y1="154.28" x2="319.50" y2="154.28" stroke="#000" stroke-width="1.55"/>
<line x1="59.95" y1="126.41" x2="65.85" y2="126.41" stroke="#000" stroke-width="1.55"/>
<line x1="306.10" y1="126.41" x2="319.50" y2="126.41" stroke="#000" stroke-width="1.55"/>
<line x1="59.95" y1="98.54" x2="65.85" y2="98.54" stroke="#000" stroke-width="1.55"/>
<line x1="306.10" y1="98.54" x2="319.50" y2="98.54" stroke="#000" stroke-width="1.55"/>
<line x1="59.95" y1="70.67" x2="65.85" y2="70.67" stroke="#000" stroke-width="1.55"/>
<line x1="306.10" y1="70.67" x2="319.50" y2="70.67" stroke="#000" stroke-width="1.55"/>
<line x1="59.95" y1="42.80" x2="65.85" y2="42.80" stroke="#000" stroke-width="1.55"/>
<line x1="306.10" y1="42.80" x2="319.50" y2="42.80" stroke="#000" stroke-width="1.55"/>
<line x1="59.95" y1="14.93" x2="65.85" y2="14.93" stroke="#000" stroke-width="1.55"/>
<line x1="306.10" y1="14.93" x2="319.50" y2="14.93" stroke="#000" stroke-width="1.55"/>
<line x1="59.95" y1="168.22" x2="62.95" y2="168.22" stroke="#000" stroke-width="1.55"/>
<line x1="309.70" y1="168.22" x2="316.30" y2="168.22" stroke="#000" stroke-width="1.55"/>
<line x1="59.95" y1="140.34" x2="62.95" y2="140.34" stroke="#000" stroke-width="1.55"/>
<line x1="309.70" y1="140.34" x2="316.30" y2="140.34" stroke="#000" stroke-width="1.55"/>
<line x1="59.95" y1="112.48" x2="62.95" y2="112.48" stroke="#000" stroke-width="1.55"/>
<line x1="309.70" y1="112.48" x2="316.30" y2="112.48" stroke="#000" stroke-width="1.55"/>
<line x1="59.95" y1="84.61" x2="62.95" y2="84.61" stroke="#000" stroke-width="1.55"/>
<line x1="309.70" y1="84.61" x2="316.30" y2="84.61" stroke="#000" stroke-width="1.55"/>
<line x1="59.95" y1="56.74" x2="62.95" y2="56.74" stroke="#000" stroke-width="1.55"/>
<line x1="309.70" y1="56.74" x2="316.30" y2="56.74" stroke="#000" stroke-width="1.55"/>
<line x1="59.95" y1="28.87" x2="62.95" y2="28.87" stroke="#000" stroke-width="1.55"/>
<line x1="309.70" y1="28.87" x2="316.30" y2="28.87" stroke="#000" stroke-width="1.55"/>
<line x1="560.00" y1="154.28" x2="566.80" y2="154.28" stroke="#000" stroke-width="1.55"/>
<line x1="560.00" y1="126.41" x2="566.80" y2="126.41" stroke="#000" stroke-width="1.55"/>
<line x1="560.00" y1="98.54" x2="566.80" y2="98.54" stroke="#000" stroke-width="1.55"/>
<line x1="560.00" y1="70.67" x2="566.80" y2="70.67" stroke="#000" stroke-width="1.55"/>
<line x1="560.00" y1="42.80" x2="566.80" y2="42.80" stroke="#000" stroke-width="1.55"/>
<line x1="560.00" y1="14.93" x2="566.80" y2="14.93" stroke="#000" stroke-width="1.55"/>
<line x1="563.30" y1="168.22" x2="566.80" y2="168.22" stroke="#000" stroke-width="1.55"/>
<line x1="563.30" y1="140.34" x2="566.80" y2="140.34" stroke="#000" stroke-width="1.55"/>
<line x1="563.30" y1="112.48" x2="566.80" y2="112.48" stroke="#000" stroke-width="1.55"/>
<line x1="563.30" y1="84.61" x2="566.80" y2="84.61" stroke="#000" stroke-width="1.55"/>
<line x1="563.30" y1="56.74" x2="566.80" y2="56.74" stroke="#000" stroke-width="1.55"/>
<line x1="563.30" y1="28.87" x2="566.80" y2="28.87" stroke="#000" stroke-width="1.55"/>
<line x1="59.20" y1="310.50" x2="66.10" y2="310.50" stroke="#000" stroke-width="1.55"/>
<line x1="305.70" y1="310.50" x2="319.10" y2="310.50" stroke="#000" stroke-width="1.55"/>
<line x1="59.20" y1="256.70" x2="66.10" y2="256.70" stroke="#000" stroke-width="1.55"/>
<line x1="305.70" y1="256.70" x2="319.10" y2="256.70" stroke="#000" stroke-width="1.55"/>
<line x1="59.20" y1="202.90" x2="66.10" y2="202.90" stroke="#000" stroke-width="1.55"/>
<line x1="305.70" y1="202.90" x2="319.10" y2="202.90" stroke="#000" stroke-width="1.55"/>
<line x1="59.20" y1="337.40" x2="62.80" y2="337.40" stroke="#000" stroke-width="1.55"/>
<line x1="309.30" y1="337.40" x2="315.90" y2="337.40" stroke="#000" stroke-width="1.55"/>
<line x1="59.20" y1="283.60" x2="62.80" y2="283.60" stroke="#000" stroke-width="1.55"/>
<line x1="309.30" y1="283.60" x2="315.90" y2="283.60" stroke="#000" stroke-width="1.55"/>
<line x1="59.20" y1="229.80" x2="62.80" y2="229.80" stroke="#000" stroke-width="1.55"/>
<line x1="309.30" y1="229.80" x2="315.90" y2="229.80" stroke="#000" stroke-width="1.55"/>
<line x1="560.40" y1="311.80" x2="567.20" y2="311.80" stroke="#000" stroke-width="1.55"/>
<line x1="560.40" y1="259.30" x2="567.20" y2="259.30" stroke="#000" stroke-width="1.55"/>
<line x1="560.40" y1="206.80" x2="567.20" y2="206.80" stroke="#000" stroke-width="1.55"/>
<line x1="563.70" y1="338.05" x2="567.20" y2="338.05" stroke="#000" stroke-width="1.55"/>
<line x1="563.70" y1="285.55" x2="567.20" y2="285.55" stroke="#000" stroke-width="1.55"/>
<line x1="563.70" y1="233.05" x2="567.20" y2="233.05" stroke="#000" stroke-width="1.55"/>
<line x1="59.20" y1="496.60" x2="66.10" y2="496.60" stroke="#000" stroke-width="1.55"/>
<line x1="305.50" y1="496.60" x2="318.90" y2="496.60" stroke="#000" stroke-width="1.55"/>
<line x1="59.20" y1="447.80" x2="66.10" y2="447.80" stroke="#000" stroke-width="1.55"/>
<line x1="305.50" y1="447.80" x2="318.90" y2="447.80" stroke="#000" stroke-width="1.55"/>
<line x1="59.20" y1="399.00" x2="66.10" y2="399.00" stroke="#000" stroke-width="1.55"/>
<line x1="305.50" y1="399.00" x2="318.90" y2="399.00" stroke="#000" stroke-width="1.55"/>
<line x1="59.20" y1="521.00" x2="62.80" y2="521.00" stroke="#000" stroke-width="1.55"/>
<line x1="309.10" y1="521.00" x2="315.70" y2="521.00" stroke="#000" stroke-width="1.55"/>
<line x1="59.20" y1="472.20" x2="62.80" y2="472.20" stroke="#000" stroke-width="1.55"/>
<line x1="309.10" y1="472.20" x2="315.70" y2="472.20" stroke="#000" stroke-width="1.55"/>
<line x1="59.20" y1="423.40" x2="62.80" y2="423.40" stroke="#000" stroke-width="1.55"/>
<line x1="309.10" y1="423.40" x2="315.70" y2="423.40" stroke="#000" stroke-width="1.55"/>
<line x1="59.20" y1="374.60" x2="62.80" y2="374.60" stroke="#000" stroke-width="1.55"/>
<line x1="309.10" y1="374.60" x2="315.70" y2="374.60" stroke="#000" stroke-width="1.55"/>
<line x1="560.50" y1="497.50" x2="567.30" y2="497.50" stroke="#000" stroke-width="1.55"/>
<line x1="560.50" y1="449.00" x2="567.30" y2="449.00" stroke="#000" stroke-width="1.55"/>
<line x1="560.50" y1="400.50" x2="567.30" y2="400.50" stroke="#000" stroke-width="1.55"/>
<line x1="563.80" y1="521.75" x2="567.30" y2="521.75" stroke="#000" stroke-width="1.55"/>
<line x1="563.80" y1="473.25" x2="567.30" y2="473.25" stroke="#000" stroke-width="1.55"/>
<line x1="563.80" y1="424.75" x2="567.30" y2="424.75" stroke="#000" stroke-width="1.55"/>
<line x1="563.80" y1="376.25" x2="567.30" y2="376.25" stroke="#000" stroke-width="1.55"/>
<line x1="101.60" y1="181.65" x2="101.60" y2="184.95" stroke="#000" stroke-width="1.0"/>
<line x1="143.70" y1="181.65" x2="143.70" y2="184.95" stroke="#000" stroke-width="1.0"/>
<line x1="185.80" y1="181.65" x2="185.80" y2="184.95" stroke="#000" stroke-width="1.0"/>
<line x1="227.90" y1="181.65" x2="227.90" y2="184.95" stroke="#000" stroke-width="1.0"/>
<line x1="270.00" y1="181.65" x2="270.00" y2="184.95" stroke="#000" stroke-width="1.0"/>
<line x1="356.11" y1="182.05" x2="356.11" y2="185.35" stroke="#000" stroke-width="1.0"/>
<line x1="398.26" y1="182.05" x2="398.26" y2="185.35" stroke="#000" stroke-width="1.0"/>
<line x1="440.41" y1="182.05" x2="440.41" y2="185.35" stroke="#000" stroke-width="1.0"/>
<line x1="482.56" y1="182.05" x2="482.56" y2="185.35" stroke="#000" stroke-width="1.0"/>
<line x1="524.71" y1="182.05" x2="524.71" y2="185.35" stroke="#000" stroke-width="1.0"/>
<line x1="100.40" y1="364.30" x2="100.40" y2="367.60" stroke="#000" stroke-width="1.0"/>
<line x1="142.50" y1="364.30" x2="142.50" y2="367.60" stroke="#000" stroke-width="1.0"/>
<line x1="184.60" y1="364.30" x2="184.60" y2="367.60" stroke="#000" stroke-width="1.0"/>
<line x1="226.70" y1="364.30" x2="226.70" y2="367.60" stroke="#000" stroke-width="1.0"/>
<line x1="268.80" y1="364.30" x2="268.80" y2="367.60" stroke="#000" stroke-width="1.0"/>
<line x1="354.61" y1="364.30" x2="354.61" y2="367.60" stroke="#000" stroke-width="1.0"/>
<line x1="396.76" y1="364.30" x2="396.76" y2="367.60" stroke="#000" stroke-width="1.0"/>
<line x1="438.91" y1="364.30" x2="438.91" y2="367.60" stroke="#000" stroke-width="1.0"/>
<line x1="481.06" y1="364.30" x2="481.06" y2="367.60" stroke="#000" stroke-width="1.0"/>
<line x1="523.21" y1="364.30" x2="523.21" y2="367.60" stroke="#000" stroke-width="1.0"/>
<line x1="100.40" y1="545.10" x2="100.40" y2="548.40" stroke="#000" stroke-width="1.0"/>
<line x1="142.50" y1="545.10" x2="142.50" y2="548.40" stroke="#000" stroke-width="1.0"/>
<line x1="184.60" y1="545.10" x2="184.60" y2="548.40" stroke="#000" stroke-width="1.0"/>
<line x1="226.70" y1="545.10" x2="226.70" y2="548.40" stroke="#000" stroke-width="1.0"/>
<line x1="268.80" y1="545.10" x2="268.80" y2="548.40" stroke="#000" stroke-width="1.0"/>
<line x1="356.11" y1="545.70" x2="356.11" y2="549.00" stroke="#000" stroke-width="1.0"/>
<line x1="398.26" y1="545.70" x2="398.26" y2="549.00" stroke="#000" stroke-width="1.0"/>
<line x1="440.41" y1="545.70" x2="440.41" y2="549.00" stroke="#000" stroke-width="1.0"/>
<line x1="482.56" y1="545.70" x2="482.56" y2="549.00" stroke="#000" stroke-width="1.0"/>
<line x1="524.71" y1="545.70" x2="524.71" y2="549.00" stroke="#000" stroke-width="1.0"/>
<g fill="none" stroke="#000" stroke-width="1.7" stroke-linejoin="miter"><path d="M295.3,163.5 V204.0"/><path d="M291.2,174 L295.3,164 L299.40000000000003,174"/><path d="M291.2,193.5 L295.3,203.5 L299.40000000000003,193.5"/></g>
<g fill="none" stroke="#000" stroke-width="1.7" stroke-linejoin="miter"><path d="M295.3,346.5 V386.5"/><path d="M291.2,357 L295.3,347 L299.40000000000003,357"/><path d="M291.2,376 L295.3,386 L299.40000000000003,376"/></g>
<g fill="none" stroke="#000" stroke-width="1.7" stroke-linejoin="miter"><path d="M551.6,163.0 V203.0"/><path d="M547.5,173.5 L551.6,163.5 L555.7,173.5"/><path d="M547.5,192.5 L551.6,202.5 L555.7,192.5"/></g>
<g fill="none" stroke="#000" stroke-width="1.7" stroke-linejoin="miter"><path d="M551.6,352.7 V391.3"/><path d="M547.5,363.2 L551.6,353.2 L555.7,363.2"/><path d="M547.5,380.8 L551.6,390.8 L555.7,380.8"/></g>
<text transform="translate(53.1,186.89) rotate(0.03)" text-anchor="end" class="tk">0.0</text>
<text transform="translate(575.8,187.09) rotate(0.03)" text-anchor="start" class="tk">0.0</text>
<text transform="translate(53.1,158.89) rotate(0.03)" text-anchor="end" class="tk">0.2</text>
<text transform="translate(575.8,159.15) rotate(0.03)" text-anchor="start" class="tk">0.2</text>
<text transform="translate(53.1,130.89) rotate(0.03)" text-anchor="end" class="tk">0.4</text>
<text transform="translate(575.8,131.21) rotate(0.03)" text-anchor="start" class="tk">0.4</text>
<text transform="translate(53.1,102.89) rotate(0.03)" text-anchor="end" class="tk">0.6</text>
<text transform="translate(575.8,103.27) rotate(0.03)" text-anchor="start" class="tk">0.6</text>
<text transform="translate(53.1,74.89) rotate(0.03)" text-anchor="end" class="tk">0.8</text>
<text transform="translate(575.8,75.33) rotate(0.03)" text-anchor="start" class="tk">0.8</text>
<text transform="translate(53.1,46.89) rotate(0.03)" text-anchor="end" class="tk">1.0</text>
<text transform="translate(575.8,47.39) rotate(0.03)" text-anchor="start" class="tk">1.0</text>
<text transform="translate(53.1,18.89) rotate(0.03)" text-anchor="end" class="tk">1.2</text>
<text transform="translate(575.8,19.45) rotate(0.03)" text-anchor="start" class="tk">1.2</text>
<text transform="translate(53.1,368.55) rotate(0.03)" text-anchor="end" class="tk" style="font-size:12.1px">0</text>
<text transform="translate(575.8,370.00) rotate(0.03)" text-anchor="start" class="tk" style="font-size:12.1px">0</text>
<text transform="translate(53.1,314.75) rotate(0.03)" text-anchor="end" class="tk" style="font-size:12.1px">100</text>
<text transform="translate(575.8,317.15) rotate(0.03)" text-anchor="start" class="tk" style="font-size:12.1px">100</text>
<text transform="translate(53.1,260.95) rotate(0.03)" text-anchor="end" class="tk" style="font-size:12.1px">200</text>
<text transform="translate(575.8,264.30) rotate(0.03)" text-anchor="start" class="tk" style="font-size:12.1px">200</text>
<text transform="translate(53.1,207.15) rotate(0.03)" text-anchor="end" class="tk" style="font-size:12.1px">300</text>
<text transform="translate(575.8,211.45) rotate(0.03)" text-anchor="start" class="tk" style="font-size:12.1px">300</text>
<text transform="translate(53.1,549.60) rotate(0.03)" text-anchor="end" class="tk" style="font-size:12.1px">0</text>
<text transform="translate(53.1,500.80) rotate(0.03)" text-anchor="end" class="tk" style="font-size:12.1px">200</text>
<text transform="translate(53.1,452.00) rotate(0.03)" text-anchor="end" class="tk" style="font-size:12.1px">400</text>
<text transform="translate(53.1,403.20) rotate(0.03)" text-anchor="end" class="tk" style="font-size:12.1px">600</text>
<text transform="translate(573.1,526.15) rotate(0.03)" text-anchor="start" class="tk" style="font-size:12.1px">100</text>
<text transform="translate(573.1,477.65) rotate(0.03)" text-anchor="start" class="tk" style="font-size:12.1px">300</text>
<text transform="translate(573.1,429.15) rotate(0.03)" text-anchor="start" class="tk" style="font-size:12.1px">500</text>
<text transform="translate(573.1,380.65) rotate(0.03)" text-anchor="start" class="tk" style="font-size:12.1px">700</text>
<text transform="translate(100.4,563.6) rotate(0.03)" text-anchor="middle" class="tk">0</text>
<text transform="translate(142.5,563.6) rotate(0.03)" text-anchor="middle" class="tk">2</text>
<text transform="translate(184.6,563.6) rotate(0.03)" text-anchor="middle" class="tk">24</text>
<text transform="translate(226.7,563.6) rotate(0.03)" text-anchor="middle" class="tk">48</text>
<text transform="translate(268.8,563.6) rotate(0.03)" text-anchor="middle" class="tk">72</text>
<text transform="translate(356.0,563.6) rotate(0.03)" text-anchor="middle" class="tk">0</text>
<text transform="translate(398.2,563.6) rotate(0.03)" text-anchor="middle" class="tk">2</text>
<text transform="translate(440.3,563.6) rotate(0.03)" text-anchor="middle" class="tk">24</text>
<text transform="translate(482.5,563.6) rotate(0.03)" text-anchor="middle" class="tk">48</text>
<text transform="translate(524.6,563.6) rotate(0.03)" text-anchor="middle" class="tk">72</text>
<text transform="translate(317.4,584.8) rotate(0.03)" text-anchor="middle" class="ti" style="font-size:14.05px">Time (h)</text>
<text transform="translate(71.6,20.0) rotate(0.03)" class="pl" style="font-size:15.6px">a</text>
<text transform="translate(73.0,207.8) rotate(0.03)" class="pl" style="font-size:16px">b</text>
<text transform="translate(71.9,390.6) rotate(0.03)" class="pl" style="font-size:16.2px">c</text>
<text transform="translate(329.9,21.3) rotate(0.03)" class="pl" style="font-size:16.5px">d</text>
<text transform="translate(330.5,211.2) rotate(0.03)" class="pl" style="font-size:16.2px">e</text>
<text transform="translate(330.2,390.4) rotate(0.03)" class="pl" style="font-size:16.5px">f</text>
<text transform="translate(122.2,17.85) scale(0.968,1) rotate(0.03)" class="lg">0 mg Se/g DW-250</text>
<text transform="translate(122.2,30.00) scale(0.968,1) rotate(0.03)" class="lg">2.5 mg Se/g DW-250</text>
<text transform="translate(122.2,42.10) scale(0.968,1) rotate(0.03)" class="lg">8.5 mg Se/g DW-250</text>
<text transform="translate(122.2,54.20) scale(0.968,1) rotate(0.03)" class="lg">25 mg Se/g DW-250</text>
<text transform="translate(380.4,15.70) scale(0.968,1) rotate(0.03)" class="lg">0 mg Se/g DW-250</text>
<text transform="translate(380.4,27.60) scale(0.968,1) rotate(0.03)" class="lg">16 mg Se/g DW-250</text>
<text transform="translate(380.4,39.60) scale(0.968,1) rotate(0.03)" class="lg">0 mg Se/g DW-500</text>
<text transform="translate(380.4,51.80) scale(0.968,1) rotate(0.03)" class="lg">16 mg Se/g DW-500</text>
<text transform="translate(380.4,63.90) scale(0.968,1) rotate(0.03)" class="lg">0 mg Se/g DW-750</text>
<text transform="translate(380.4,76.10) scale(0.968,1) rotate(0.03)" class="lg">16 mg Se/g DW-750</text>
<text transform="translate(15.3,88.4) rotate(-89.97)" text-anchor="middle" class="ti" style="font-size:14.1px"><tspan style="font-weight:normal" stroke="#000" stroke-width="0.55">Fv/Fm</tspan> (r.u.)</text>
<text transform="translate(622,92) rotate(-89.97)" text-anchor="middle" class="ti" ><tspan style="font-weight:normal" stroke="#000" stroke-width="0.55">Fv/Fm</tspan> (r.u.)</text>
<text transform="translate(14,272.5) rotate(-89.97)" text-anchor="middle" class="ti" >rETR<tspan dy="2.6" style="font-weight:normal;font-size:9.4px;stroke-width:0.15px">max</tspan><tspan dy="-2.6"> (r.u.)</tspan></text>
<text transform="translate(624.5,267.7) rotate(-89.97)" text-anchor="middle" class="ti" >rETR<tspan dy="2.6" style="font-weight:normal;font-size:9.4px;stroke-width:0.15px">max</tspan><tspan dy="-2.6"> (r.u.)</tspan></text>
<text transform="translate(14.1,446.7) rotate(-89.97)" text-anchor="middle" class="ti" >E<tspan dy="3.6">k</tspan><tspan dy="-2.5"> (µmol photons m</tspan><tspan dy="-6" style="font-weight:normal;font-size:8.5px;stroke-width:0.1px">-2</tspan><tspan dy="6"> s</tspan><tspan dy="-6" style="font-weight:normal;font-size:8.5px;stroke-width:0.1px">-1</tspan><tspan dy="6">)</tspan></text>
<text transform="translate(627.8,443.8) rotate(-89.97)" text-anchor="middle" class="ti" style="font-size:14.1px">E<tspan dy="3.6">k</tspan><tspan dy="-2.5"> (µmol photons m</tspan><tspan dy="-6" style="font-weight:normal;font-size:8.5px;stroke-width:0.1px">-2</tspan><tspan dy="6"> s</tspan><tspan dy="-6" style="font-weight:normal;font-size:8.5px;stroke-width:0.1px">-1</tspan><tspan dy="6">)</tspan></text>
</g></svg></body></html>
